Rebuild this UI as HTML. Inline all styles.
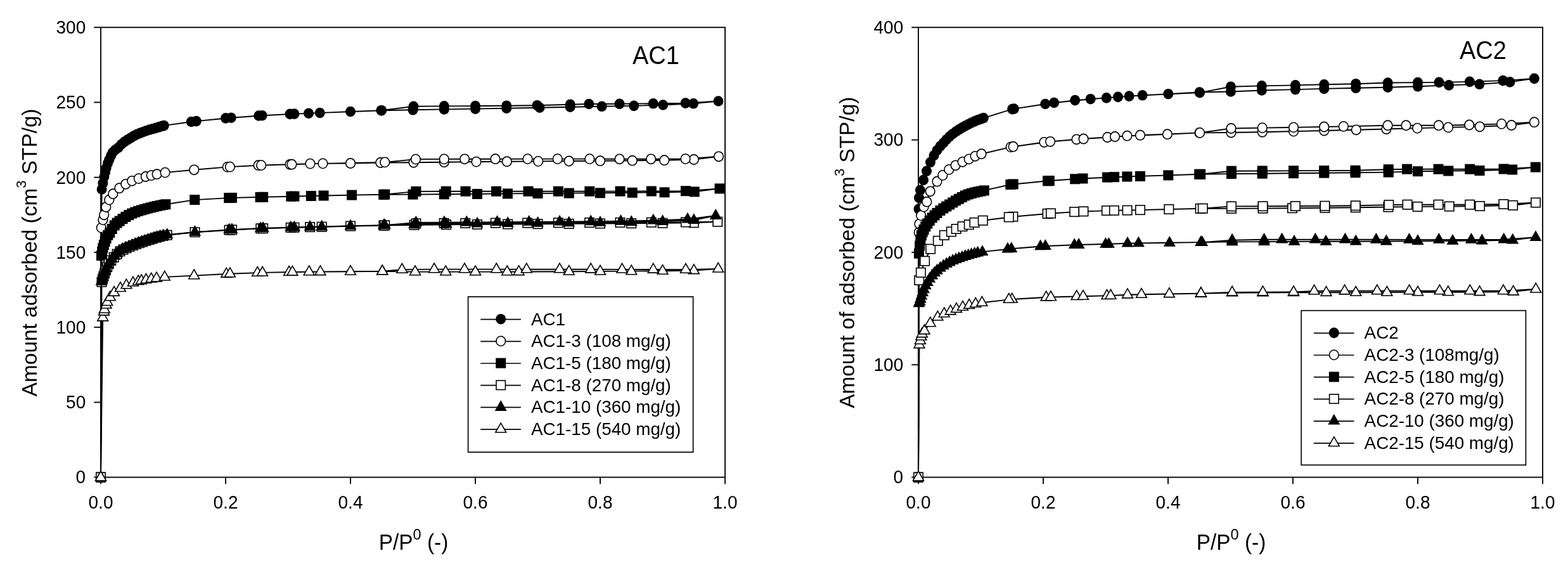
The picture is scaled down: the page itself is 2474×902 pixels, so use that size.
<!DOCTYPE html>
<html><head><meta charset="utf-8"><title>Adsorption isotherms</title>
<style>
html,body{margin:0;padding:0;background:#fff;}
body{width:2474px;height:902px;overflow:hidden;}
svg{display:block;}
text{font-family:"Liberation Sans", Arial, Helvetica, sans-serif;fill:#000;}
.tk{font-size:28px;}
.lg{font-size:27.8px;}
.ttl{font-size:38px;}
.at{font-size:33.4px;}
.sup{font-size:23.5px;}
.sup2{font-size:22px;}
</style></head>
<body>
<svg width="2474" height="902" viewBox="0 0 2474 902">
<rect width="2474" height="902" fill="#fff"/>
<rect x="159.0" y="43.2" width="985.0" height="709.4" fill="none" stroke="#111" stroke-width="2"/>
<line x1="148.3" y1="752.6" x2="159.0" y2="752.6" stroke="#111" stroke-width="2"/>
<text transform="translate(135.2 762.4) scale(1 1.04)" text-anchor="end" class="tk">0</text>
<line x1="148.3" y1="634.4" x2="159.0" y2="634.4" stroke="#111" stroke-width="2"/>
<text transform="translate(135.2 644.2) scale(1 1.04)" text-anchor="end" class="tk">50</text>
<line x1="148.3" y1="516.1" x2="159.0" y2="516.1" stroke="#111" stroke-width="2"/>
<text transform="translate(135.2 525.9) scale(1 1.04)" text-anchor="end" class="tk">100</text>
<line x1="148.3" y1="397.9" x2="159.0" y2="397.9" stroke="#111" stroke-width="2"/>
<text transform="translate(135.2 407.7) scale(1 1.04)" text-anchor="end" class="tk">150</text>
<line x1="148.3" y1="279.7" x2="159.0" y2="279.7" stroke="#111" stroke-width="2"/>
<text transform="translate(135.2 289.5) scale(1 1.04)" text-anchor="end" class="tk">200</text>
<line x1="148.3" y1="161.4" x2="159.0" y2="161.4" stroke="#111" stroke-width="2"/>
<text transform="translate(135.2 171.2) scale(1 1.04)" text-anchor="end" class="tk">250</text>
<line x1="148.3" y1="43.2" x2="159.0" y2="43.2" stroke="#111" stroke-width="2"/>
<text transform="translate(135.2 53.0) scale(1 1.04)" text-anchor="end" class="tk">300</text>
<line x1="159.0" y1="752.6" x2="159.0" y2="763.3" stroke="#111" stroke-width="2"/>
<text transform="translate(159.0 802.0) scale(1 1.04)" text-anchor="middle" class="tk">0.0</text>
<line x1="356.0" y1="752.6" x2="356.0" y2="763.3" stroke="#111" stroke-width="2"/>
<text transform="translate(356.0 802.0) scale(1 1.04)" text-anchor="middle" class="tk">0.2</text>
<line x1="553.0" y1="752.6" x2="553.0" y2="763.3" stroke="#111" stroke-width="2"/>
<text transform="translate(553.0 802.0) scale(1 1.04)" text-anchor="middle" class="tk">0.4</text>
<line x1="750.0" y1="752.6" x2="750.0" y2="763.3" stroke="#111" stroke-width="2"/>
<text transform="translate(750.0 802.0) scale(1 1.04)" text-anchor="middle" class="tk">0.6</text>
<line x1="947.0" y1="752.6" x2="947.0" y2="763.3" stroke="#111" stroke-width="2"/>
<text transform="translate(947.0 802.0) scale(1 1.04)" text-anchor="middle" class="tk">0.8</text>
<line x1="1144.0" y1="752.6" x2="1144.0" y2="763.3" stroke="#111" stroke-width="2"/>
<text transform="translate(1144.0 802.0) scale(1 1.04)" text-anchor="middle" class="tk">1.0</text>
<rect x="1449.0" y="43.2" width="985.0" height="709.4" fill="none" stroke="#111" stroke-width="2"/>
<line x1="1438.3" y1="752.6" x2="1449.0" y2="752.6" stroke="#111" stroke-width="2"/>
<text transform="translate(1425.2 762.4) scale(1 1.04)" text-anchor="end" class="tk">0</text>
<line x1="1438.3" y1="575.2" x2="1449.0" y2="575.2" stroke="#111" stroke-width="2"/>
<text transform="translate(1425.2 585.0) scale(1 1.04)" text-anchor="end" class="tk">100</text>
<line x1="1438.3" y1="397.9" x2="1449.0" y2="397.9" stroke="#111" stroke-width="2"/>
<text transform="translate(1425.2 407.7) scale(1 1.04)" text-anchor="end" class="tk">200</text>
<line x1="1438.3" y1="220.6" x2="1449.0" y2="220.6" stroke="#111" stroke-width="2"/>
<text transform="translate(1425.2 230.4) scale(1 1.04)" text-anchor="end" class="tk">300</text>
<line x1="1438.3" y1="43.2" x2="1449.0" y2="43.2" stroke="#111" stroke-width="2"/>
<text transform="translate(1425.2 53.0) scale(1 1.04)" text-anchor="end" class="tk">400</text>
<line x1="1449.0" y1="752.6" x2="1449.0" y2="763.3" stroke="#111" stroke-width="2"/>
<text transform="translate(1449.0 802.0) scale(1 1.04)" text-anchor="middle" class="tk">0.0</text>
<line x1="1646.0" y1="752.6" x2="1646.0" y2="763.3" stroke="#111" stroke-width="2"/>
<text transform="translate(1646.0 802.0) scale(1 1.04)" text-anchor="middle" class="tk">0.2</text>
<line x1="1843.0" y1="752.6" x2="1843.0" y2="763.3" stroke="#111" stroke-width="2"/>
<text transform="translate(1843.0 802.0) scale(1 1.04)" text-anchor="middle" class="tk">0.4</text>
<line x1="2040.0" y1="752.6" x2="2040.0" y2="763.3" stroke="#111" stroke-width="2"/>
<text transform="translate(2040.0 802.0) scale(1 1.04)" text-anchor="middle" class="tk">0.6</text>
<line x1="2237.0" y1="752.6" x2="2237.0" y2="763.3" stroke="#111" stroke-width="2"/>
<text transform="translate(2237.0 802.0) scale(1 1.04)" text-anchor="middle" class="tk">0.8</text>
<line x1="2434.0" y1="752.6" x2="2434.0" y2="763.3" stroke="#111" stroke-width="2"/>
<text transform="translate(2434.0 802.0) scale(1 1.04)" text-anchor="middle" class="tk">1.0</text>
<path d="M159.0 752.6 L160.6 298.5 L162.4 288.9 L164.4 278.6 L166.0 271.5 L167.6 265.2 L170.0 257.6 L172.3 251.8 L175.0 245.5 L177.6 240.6 L182.1 236.2 L186.7 232.8 L191.5 227.7 L196.4 223.6 L201.4 220.4 L206.3 217.4 L211.2 214.4 L216.1 211.9 L221.1 209.9 L226.0 208.0 L230.9 206.2 L235.8 204.6 L240.8 203.3 L245.7 201.9 L250.6 200.4 L255.5 198.9 L258.8 198.1 L301.8 192.0 L356.0 186.4 L408.2 182.5 L457.5 179.9 L487.0 178.7 L553.0 176.0 L602.2 174.2 L651.5 173.3 L700.8 172.4 L750.0 171.6 L799.2 170.7 L851.5 169.7 L899.7 168.7 L949.6 167.8 L1000.2 166.9 L1046.1 165.5 L1094.1 163.3 L1133.4 159.5 L1081.5 162.6 L1030.7 163.3 L977.5 163.8 L929.3 164.0 L899.7 164.7 L847.5 166.2 L799.2 166.7 L750.0 167.1 L700.8 167.4 L652.5 167.8 L601.3 174.2 L504.7 178.0 L464.4 179.6 L413.6 182.2 L364.7 185.7 L309.8 191.1" fill="none" stroke="#000" stroke-width="1.9" stroke-linejoin="round"/>
<ellipse cx="159.0" cy="752.6" rx="8.0" ry="8.3" fill="#000"/>
<ellipse cx="160.6" cy="298.5" rx="8.0" ry="8.3" fill="#000"/>
<ellipse cx="162.4" cy="288.9" rx="8.0" ry="8.3" fill="#000"/>
<ellipse cx="164.4" cy="278.6" rx="8.0" ry="8.3" fill="#000"/>
<ellipse cx="166.0" cy="271.5" rx="8.0" ry="8.3" fill="#000"/>
<ellipse cx="167.6" cy="265.2" rx="8.0" ry="8.3" fill="#000"/>
<ellipse cx="170.0" cy="257.6" rx="8.0" ry="8.3" fill="#000"/>
<ellipse cx="172.3" cy="251.8" rx="8.0" ry="8.3" fill="#000"/>
<ellipse cx="175.0" cy="245.5" rx="8.0" ry="8.3" fill="#000"/>
<ellipse cx="177.6" cy="240.6" rx="8.0" ry="8.3" fill="#000"/>
<ellipse cx="182.1" cy="236.2" rx="8.0" ry="8.3" fill="#000"/>
<ellipse cx="186.7" cy="232.8" rx="8.0" ry="8.3" fill="#000"/>
<ellipse cx="191.5" cy="227.7" rx="8.0" ry="8.3" fill="#000"/>
<ellipse cx="196.4" cy="223.6" rx="8.0" ry="8.3" fill="#000"/>
<ellipse cx="201.4" cy="220.4" rx="8.0" ry="8.3" fill="#000"/>
<ellipse cx="206.3" cy="217.4" rx="8.0" ry="8.3" fill="#000"/>
<ellipse cx="211.2" cy="214.4" rx="8.0" ry="8.3" fill="#000"/>
<ellipse cx="216.1" cy="211.9" rx="8.0" ry="8.3" fill="#000"/>
<ellipse cx="221.1" cy="209.9" rx="8.0" ry="8.3" fill="#000"/>
<ellipse cx="226.0" cy="208.0" rx="8.0" ry="8.3" fill="#000"/>
<ellipse cx="230.9" cy="206.2" rx="8.0" ry="8.3" fill="#000"/>
<ellipse cx="235.8" cy="204.6" rx="8.0" ry="8.3" fill="#000"/>
<ellipse cx="240.8" cy="203.3" rx="8.0" ry="8.3" fill="#000"/>
<ellipse cx="245.7" cy="201.9" rx="8.0" ry="8.3" fill="#000"/>
<ellipse cx="250.6" cy="200.4" rx="8.0" ry="8.3" fill="#000"/>
<ellipse cx="255.5" cy="198.9" rx="8.0" ry="8.3" fill="#000"/>
<ellipse cx="258.8" cy="198.1" rx="8.0" ry="8.3" fill="#000"/>
<ellipse cx="301.8" cy="192.0" rx="8.0" ry="8.3" fill="#000"/>
<ellipse cx="356.0" cy="186.4" rx="8.0" ry="8.3" fill="#000"/>
<ellipse cx="408.2" cy="182.5" rx="8.0" ry="8.3" fill="#000"/>
<ellipse cx="457.5" cy="179.9" rx="8.0" ry="8.3" fill="#000"/>
<ellipse cx="487.0" cy="178.7" rx="8.0" ry="8.3" fill="#000"/>
<ellipse cx="553.0" cy="176.0" rx="8.0" ry="8.3" fill="#000"/>
<ellipse cx="602.2" cy="174.2" rx="8.0" ry="8.3" fill="#000"/>
<ellipse cx="651.5" cy="173.3" rx="8.0" ry="8.3" fill="#000"/>
<ellipse cx="700.8" cy="172.4" rx="8.0" ry="8.3" fill="#000"/>
<ellipse cx="750.0" cy="171.6" rx="8.0" ry="8.3" fill="#000"/>
<ellipse cx="799.2" cy="170.7" rx="8.0" ry="8.3" fill="#000"/>
<ellipse cx="851.5" cy="169.7" rx="8.0" ry="8.3" fill="#000"/>
<ellipse cx="899.7" cy="168.7" rx="8.0" ry="8.3" fill="#000"/>
<ellipse cx="949.6" cy="167.8" rx="8.0" ry="8.3" fill="#000"/>
<ellipse cx="1000.2" cy="166.9" rx="8.0" ry="8.3" fill="#000"/>
<ellipse cx="1046.1" cy="165.5" rx="8.0" ry="8.3" fill="#000"/>
<ellipse cx="1094.1" cy="163.3" rx="8.0" ry="8.3" fill="#000"/>
<ellipse cx="1133.4" cy="159.5" rx="8.0" ry="8.3" fill="#000"/>
<ellipse cx="1081.5" cy="162.6" rx="8.0" ry="8.3" fill="#000"/>
<ellipse cx="1030.7" cy="163.3" rx="8.0" ry="8.3" fill="#000"/>
<ellipse cx="977.5" cy="163.8" rx="8.0" ry="8.3" fill="#000"/>
<ellipse cx="929.3" cy="164.0" rx="8.0" ry="8.3" fill="#000"/>
<ellipse cx="899.7" cy="164.7" rx="8.0" ry="8.3" fill="#000"/>
<ellipse cx="847.5" cy="166.2" rx="8.0" ry="8.3" fill="#000"/>
<ellipse cx="799.2" cy="166.7" rx="8.0" ry="8.3" fill="#000"/>
<ellipse cx="750.0" cy="167.1" rx="8.0" ry="8.3" fill="#000"/>
<ellipse cx="700.8" cy="167.4" rx="8.0" ry="8.3" fill="#000"/>
<ellipse cx="652.5" cy="167.8" rx="8.0" ry="8.3" fill="#000"/>
<ellipse cx="601.3" cy="174.2" rx="8.0" ry="8.3" fill="#000"/>
<ellipse cx="504.7" cy="178.0" rx="8.0" ry="8.3" fill="#000"/>
<ellipse cx="464.4" cy="179.6" rx="8.0" ry="8.3" fill="#000"/>
<ellipse cx="413.6" cy="182.2" rx="8.0" ry="8.3" fill="#000"/>
<ellipse cx="364.7" cy="185.7" rx="8.0" ry="8.3" fill="#000"/>
<ellipse cx="309.8" cy="191.1" rx="8.0" ry="8.3" fill="#000"/>
<path d="M159.0 752.6 L159.8 359.1 L162.4 346.6 L164.2 338.8 L167.3 326.5 L172.3 315.1 L178.3 305.7 L188.3 296.7 L198.3 290.3 L208.2 285.3 L218.8 281.6 L229.9 278.5 L238.7 276.6 L247.6 274.7 L260.5 272.1 L306.3 267.8 L358.8 263.4 L407.6 260.7 L457.5 259.3 L489.4 258.1 L553.0 257.5 L600.3 256.5 L652.6 256.3 L700.8 255.7 L751.5 255.1 L799.8 254.7 L849.2 254.4 L897.7 254.0 L947.0 253.7 L997.7 253.2 L1048.2 252.7 L1094.8 251.5 L1134.0 246.8 L1081.5 250.6 L1027.1 250.8 L977.5 250.8 L930.3 250.6 L879.7 250.6 L832.5 250.6 L781.5 250.7 L733.1 250.8 L700.8 250.9 L655.9 251.1 L607.2 255.9 L509.4 257.9 L460.4 259.2 L412.1 260.6 L362.9 263.1" fill="none" stroke="#000" stroke-width="1.9" stroke-linejoin="round"/>
<ellipse cx="159.0" cy="752.6" rx="7.3" ry="7.6" fill="#fff" stroke="#000" stroke-width="1.6"/>
<ellipse cx="159.8" cy="359.1" rx="7.3" ry="7.6" fill="#fff" stroke="#000" stroke-width="1.6"/>
<ellipse cx="162.4" cy="346.6" rx="7.3" ry="7.6" fill="#fff" stroke="#000" stroke-width="1.6"/>
<ellipse cx="164.2" cy="338.8" rx="7.3" ry="7.6" fill="#fff" stroke="#000" stroke-width="1.6"/>
<ellipse cx="167.3" cy="326.5" rx="7.3" ry="7.6" fill="#fff" stroke="#000" stroke-width="1.6"/>
<ellipse cx="172.3" cy="315.1" rx="7.3" ry="7.6" fill="#fff" stroke="#000" stroke-width="1.6"/>
<ellipse cx="178.3" cy="305.7" rx="7.3" ry="7.6" fill="#fff" stroke="#000" stroke-width="1.6"/>
<ellipse cx="188.3" cy="296.7" rx="7.3" ry="7.6" fill="#fff" stroke="#000" stroke-width="1.6"/>
<ellipse cx="198.3" cy="290.3" rx="7.3" ry="7.6" fill="#fff" stroke="#000" stroke-width="1.6"/>
<ellipse cx="208.2" cy="285.3" rx="7.3" ry="7.6" fill="#fff" stroke="#000" stroke-width="1.6"/>
<ellipse cx="218.8" cy="281.6" rx="7.3" ry="7.6" fill="#fff" stroke="#000" stroke-width="1.6"/>
<ellipse cx="229.9" cy="278.5" rx="7.3" ry="7.6" fill="#fff" stroke="#000" stroke-width="1.6"/>
<ellipse cx="238.7" cy="276.6" rx="7.3" ry="7.6" fill="#fff" stroke="#000" stroke-width="1.6"/>
<ellipse cx="247.6" cy="274.7" rx="7.3" ry="7.6" fill="#fff" stroke="#000" stroke-width="1.6"/>
<ellipse cx="260.5" cy="272.1" rx="7.3" ry="7.6" fill="#fff" stroke="#000" stroke-width="1.6"/>
<ellipse cx="306.3" cy="267.8" rx="7.3" ry="7.6" fill="#fff" stroke="#000" stroke-width="1.6"/>
<ellipse cx="358.8" cy="263.4" rx="7.3" ry="7.6" fill="#fff" stroke="#000" stroke-width="1.6"/>
<ellipse cx="407.6" cy="260.7" rx="7.3" ry="7.6" fill="#fff" stroke="#000" stroke-width="1.6"/>
<ellipse cx="457.5" cy="259.3" rx="7.3" ry="7.6" fill="#fff" stroke="#000" stroke-width="1.6"/>
<ellipse cx="489.4" cy="258.1" rx="7.3" ry="7.6" fill="#fff" stroke="#000" stroke-width="1.6"/>
<ellipse cx="553.0" cy="257.5" rx="7.3" ry="7.6" fill="#fff" stroke="#000" stroke-width="1.6"/>
<ellipse cx="600.3" cy="256.5" rx="7.3" ry="7.6" fill="#fff" stroke="#000" stroke-width="1.6"/>
<ellipse cx="652.6" cy="256.3" rx="7.3" ry="7.6" fill="#fff" stroke="#000" stroke-width="1.6"/>
<ellipse cx="700.8" cy="255.7" rx="7.3" ry="7.6" fill="#fff" stroke="#000" stroke-width="1.6"/>
<ellipse cx="751.5" cy="255.1" rx="7.3" ry="7.6" fill="#fff" stroke="#000" stroke-width="1.6"/>
<ellipse cx="799.8" cy="254.7" rx="7.3" ry="7.6" fill="#fff" stroke="#000" stroke-width="1.6"/>
<ellipse cx="849.2" cy="254.4" rx="7.3" ry="7.6" fill="#fff" stroke="#000" stroke-width="1.6"/>
<ellipse cx="897.7" cy="254.0" rx="7.3" ry="7.6" fill="#fff" stroke="#000" stroke-width="1.6"/>
<ellipse cx="947.0" cy="253.7" rx="7.3" ry="7.6" fill="#fff" stroke="#000" stroke-width="1.6"/>
<ellipse cx="997.7" cy="253.2" rx="7.3" ry="7.6" fill="#fff" stroke="#000" stroke-width="1.6"/>
<ellipse cx="1048.2" cy="252.7" rx="7.3" ry="7.6" fill="#fff" stroke="#000" stroke-width="1.6"/>
<ellipse cx="1094.8" cy="251.5" rx="7.3" ry="7.6" fill="#fff" stroke="#000" stroke-width="1.6"/>
<ellipse cx="1134.0" cy="246.8" rx="7.3" ry="7.6" fill="#fff" stroke="#000" stroke-width="1.6"/>
<ellipse cx="1081.5" cy="250.6" rx="7.3" ry="7.6" fill="#fff" stroke="#000" stroke-width="1.6"/>
<ellipse cx="1027.1" cy="250.8" rx="7.3" ry="7.6" fill="#fff" stroke="#000" stroke-width="1.6"/>
<ellipse cx="977.5" cy="250.8" rx="7.3" ry="7.6" fill="#fff" stroke="#000" stroke-width="1.6"/>
<ellipse cx="930.3" cy="250.6" rx="7.3" ry="7.6" fill="#fff" stroke="#000" stroke-width="1.6"/>
<ellipse cx="879.7" cy="250.6" rx="7.3" ry="7.6" fill="#fff" stroke="#000" stroke-width="1.6"/>
<ellipse cx="832.5" cy="250.6" rx="7.3" ry="7.6" fill="#fff" stroke="#000" stroke-width="1.6"/>
<ellipse cx="781.5" cy="250.7" rx="7.3" ry="7.6" fill="#fff" stroke="#000" stroke-width="1.6"/>
<ellipse cx="733.1" cy="250.8" rx="7.3" ry="7.6" fill="#fff" stroke="#000" stroke-width="1.6"/>
<ellipse cx="700.8" cy="250.9" rx="7.3" ry="7.6" fill="#fff" stroke="#000" stroke-width="1.6"/>
<ellipse cx="655.9" cy="251.1" rx="7.3" ry="7.6" fill="#fff" stroke="#000" stroke-width="1.6"/>
<ellipse cx="607.2" cy="255.9" rx="7.3" ry="7.6" fill="#fff" stroke="#000" stroke-width="1.6"/>
<ellipse cx="509.4" cy="257.9" rx="7.3" ry="7.6" fill="#fff" stroke="#000" stroke-width="1.6"/>
<ellipse cx="460.4" cy="259.2" rx="7.3" ry="7.6" fill="#fff" stroke="#000" stroke-width="1.6"/>
<ellipse cx="412.1" cy="260.6" rx="7.3" ry="7.6" fill="#fff" stroke="#000" stroke-width="1.6"/>
<ellipse cx="362.9" cy="263.1" rx="7.3" ry="7.6" fill="#fff" stroke="#000" stroke-width="1.6"/>
<path d="M159.0 752.6 L160.0 403.1 L161.2 396.7 L162.4 391.2 L163.9 386.2 L165.7 380.9 L167.6 375.8 L170.3 370.7 L173.3 366.9 L176.7 361.0 L180.7 355.4 L184.6 351.6 L188.6 348.6 L193.5 345.2 L198.4 342.0 L203.3 339.1 L208.2 336.6 L213.2 334.6 L218.1 332.9 L223.0 331.4 L227.9 330.0 L232.9 328.6 L237.8 327.4 L242.7 326.2 L247.6 325.0 L252.6 324.0 L257.5 323.0 L261.4 322.2 L307.2 315.1 L361.2 312.1 L410.6 310.9 L459.3 309.7 L490.9 309.0 L555.0 307.6 L605.2 306.9 L651.5 306.6 L700.8 306.3 L753.0 305.9 L800.9 305.4 L848.5 305.0 L897.8 304.6 L947.0 304.3 L997.7 303.8 L1048.5 303.3 L1095.7 302.4 L1135.5 297.4 L1081.9 301.2 L1027.8 301.5 L978.5 301.6 L930.3 301.7 L880.8 301.7 L833.5 301.7 L783.0 301.7 L734.5 301.7 L703.7 301.7 L656.4 301.9 L607.2 306.6 L510.6 308.5 L464.4 309.6 L415.1 310.8 L365.9 311.9" fill="none" stroke="#000" stroke-width="1.9" stroke-linejoin="round"/>
<rect x="151.0" y="744.6" width="16.0" height="16.0" fill="#000"/>
<rect x="152.0" y="395.1" width="16.0" height="16.0" fill="#000"/>
<rect x="153.2" y="388.7" width="16.0" height="16.0" fill="#000"/>
<rect x="154.4" y="383.2" width="16.0" height="16.0" fill="#000"/>
<rect x="155.9" y="378.2" width="16.0" height="16.0" fill="#000"/>
<rect x="157.7" y="372.9" width="16.0" height="16.0" fill="#000"/>
<rect x="159.6" y="367.8" width="16.0" height="16.0" fill="#000"/>
<rect x="162.3" y="362.7" width="16.0" height="16.0" fill="#000"/>
<rect x="165.3" y="358.9" width="16.0" height="16.0" fill="#000"/>
<rect x="168.7" y="353.0" width="16.0" height="16.0" fill="#000"/>
<rect x="172.7" y="347.4" width="16.0" height="16.0" fill="#000"/>
<rect x="176.6" y="343.6" width="16.0" height="16.0" fill="#000"/>
<rect x="180.6" y="340.6" width="16.0" height="16.0" fill="#000"/>
<rect x="185.5" y="337.2" width="16.0" height="16.0" fill="#000"/>
<rect x="190.4" y="334.0" width="16.0" height="16.0" fill="#000"/>
<rect x="195.3" y="331.1" width="16.0" height="16.0" fill="#000"/>
<rect x="200.2" y="328.6" width="16.0" height="16.0" fill="#000"/>
<rect x="205.2" y="326.6" width="16.0" height="16.0" fill="#000"/>
<rect x="210.1" y="324.9" width="16.0" height="16.0" fill="#000"/>
<rect x="215.0" y="323.4" width="16.0" height="16.0" fill="#000"/>
<rect x="219.9" y="322.0" width="16.0" height="16.0" fill="#000"/>
<rect x="224.9" y="320.6" width="16.0" height="16.0" fill="#000"/>
<rect x="229.8" y="319.4" width="16.0" height="16.0" fill="#000"/>
<rect x="234.7" y="318.2" width="16.0" height="16.0" fill="#000"/>
<rect x="239.6" y="317.0" width="16.0" height="16.0" fill="#000"/>
<rect x="244.6" y="316.0" width="16.0" height="16.0" fill="#000"/>
<rect x="249.5" y="315.0" width="16.0" height="16.0" fill="#000"/>
<rect x="253.4" y="314.2" width="16.0" height="16.0" fill="#000"/>
<rect x="299.2" y="307.1" width="16.0" height="16.0" fill="#000"/>
<rect x="353.2" y="304.1" width="16.0" height="16.0" fill="#000"/>
<rect x="402.6" y="302.9" width="16.0" height="16.0" fill="#000"/>
<rect x="451.3" y="301.7" width="16.0" height="16.0" fill="#000"/>
<rect x="482.9" y="301.0" width="16.0" height="16.0" fill="#000"/>
<rect x="547.0" y="299.6" width="16.0" height="16.0" fill="#000"/>
<rect x="597.2" y="298.9" width="16.0" height="16.0" fill="#000"/>
<rect x="643.5" y="298.6" width="16.0" height="16.0" fill="#000"/>
<rect x="692.8" y="298.3" width="16.0" height="16.0" fill="#000"/>
<rect x="745.0" y="297.9" width="16.0" height="16.0" fill="#000"/>
<rect x="792.9" y="297.4" width="16.0" height="16.0" fill="#000"/>
<rect x="840.5" y="297.0" width="16.0" height="16.0" fill="#000"/>
<rect x="889.8" y="296.6" width="16.0" height="16.0" fill="#000"/>
<rect x="939.0" y="296.3" width="16.0" height="16.0" fill="#000"/>
<rect x="989.7" y="295.8" width="16.0" height="16.0" fill="#000"/>
<rect x="1040.5" y="295.3" width="16.0" height="16.0" fill="#000"/>
<rect x="1087.7" y="294.4" width="16.0" height="16.0" fill="#000"/>
<rect x="1127.5" y="289.4" width="16.0" height="16.0" fill="#000"/>
<rect x="1073.9" y="293.2" width="16.0" height="16.0" fill="#000"/>
<rect x="1019.8" y="293.5" width="16.0" height="16.0" fill="#000"/>
<rect x="970.5" y="293.6" width="16.0" height="16.0" fill="#000"/>
<rect x="922.3" y="293.7" width="16.0" height="16.0" fill="#000"/>
<rect x="872.8" y="293.7" width="16.0" height="16.0" fill="#000"/>
<rect x="825.5" y="293.7" width="16.0" height="16.0" fill="#000"/>
<rect x="775.0" y="293.7" width="16.0" height="16.0" fill="#000"/>
<rect x="726.5" y="293.7" width="16.0" height="16.0" fill="#000"/>
<rect x="695.7" y="293.7" width="16.0" height="16.0" fill="#000"/>
<rect x="648.4" y="293.9" width="16.0" height="16.0" fill="#000"/>
<rect x="599.2" y="298.6" width="16.0" height="16.0" fill="#000"/>
<rect x="502.6" y="300.5" width="16.0" height="16.0" fill="#000"/>
<rect x="456.4" y="301.6" width="16.0" height="16.0" fill="#000"/>
<rect x="407.1" y="302.8" width="16.0" height="16.0" fill="#000"/>
<rect x="357.9" y="303.9" width="16.0" height="16.0" fill="#000"/>
<path d="M159.0 752.6 L160.5 444.7 L162.0 439.9 L163.4 435.5 L165.1 430.7 L166.9 426.2 L169.3 420.4 L171.8 415.8 L175.3 410.7 L179.7 405.7 L184.6 400.6 L189.5 396.3 L194.5 393.5 L199.4 391.2 L204.3 389.2 L209.8 387.0 L215.1 385.0 L220.1 383.2 L225.0 381.5 L230.4 379.7 L235.8 378.1 L240.8 376.5 L246.7 374.7 L251.6 373.3 L257.5 371.9 L263.7 370.7 L307.5 366.2 L361.6 362.7 L411.3 360.3 L458.7 358.9 L489.1 358.1 L553.0 356.5 L605.4 355.6 L653.6 354.8 L704.1 354.3 L753.0 353.9 L801.2 353.5 L848.5 353.2 L897.8 352.9 L947.0 352.5 L996.2 352.2 L1045.5 351.8 L1094.8 351.3 L1132.2 349.7 L1081.9 350.4 L1027.8 350.7 L978.5 350.9 L930.1 351.1 L880.8 351.3 L832.2 351.5 L781.8 351.6 L734.2 351.9 L700.8 352.0 L656.4 352.4 L607.2 355.4 L507.7 357.7 L464.4 358.7 L415.1 360.2 L365.9 362.4" fill="none" stroke="#000" stroke-width="1.9" stroke-linejoin="round"/>
<rect x="151.8" y="745.4" width="14.4" height="14.4" fill="#fff" stroke="#000" stroke-width="1.6"/>
<rect x="153.3" y="437.5" width="14.4" height="14.4" fill="#fff" stroke="#000" stroke-width="1.6"/>
<rect x="154.8" y="432.7" width="14.4" height="14.4" fill="#fff" stroke="#000" stroke-width="1.6"/>
<rect x="156.2" y="428.3" width="14.4" height="14.4" fill="#fff" stroke="#000" stroke-width="1.6"/>
<rect x="157.9" y="423.5" width="14.4" height="14.4" fill="#fff" stroke="#000" stroke-width="1.6"/>
<rect x="159.7" y="419.0" width="14.4" height="14.4" fill="#fff" stroke="#000" stroke-width="1.6"/>
<rect x="162.1" y="413.2" width="14.4" height="14.4" fill="#fff" stroke="#000" stroke-width="1.6"/>
<rect x="164.6" y="408.6" width="14.4" height="14.4" fill="#fff" stroke="#000" stroke-width="1.6"/>
<rect x="168.1" y="403.5" width="14.4" height="14.4" fill="#fff" stroke="#000" stroke-width="1.6"/>
<rect x="172.5" y="398.5" width="14.4" height="14.4" fill="#fff" stroke="#000" stroke-width="1.6"/>
<rect x="177.4" y="393.4" width="14.4" height="14.4" fill="#fff" stroke="#000" stroke-width="1.6"/>
<rect x="182.3" y="389.1" width="14.4" height="14.4" fill="#fff" stroke="#000" stroke-width="1.6"/>
<rect x="187.3" y="386.3" width="14.4" height="14.4" fill="#fff" stroke="#000" stroke-width="1.6"/>
<rect x="192.2" y="384.0" width="14.4" height="14.4" fill="#fff" stroke="#000" stroke-width="1.6"/>
<rect x="197.1" y="382.0" width="14.4" height="14.4" fill="#fff" stroke="#000" stroke-width="1.6"/>
<rect x="202.6" y="379.8" width="14.4" height="14.4" fill="#fff" stroke="#000" stroke-width="1.6"/>
<rect x="207.9" y="377.8" width="14.4" height="14.4" fill="#fff" stroke="#000" stroke-width="1.6"/>
<rect x="212.9" y="376.0" width="14.4" height="14.4" fill="#fff" stroke="#000" stroke-width="1.6"/>
<rect x="217.8" y="374.3" width="14.4" height="14.4" fill="#fff" stroke="#000" stroke-width="1.6"/>
<rect x="223.2" y="372.5" width="14.4" height="14.4" fill="#fff" stroke="#000" stroke-width="1.6"/>
<rect x="228.6" y="370.9" width="14.4" height="14.4" fill="#fff" stroke="#000" stroke-width="1.6"/>
<rect x="233.6" y="369.3" width="14.4" height="14.4" fill="#fff" stroke="#000" stroke-width="1.6"/>
<rect x="239.5" y="367.5" width="14.4" height="14.4" fill="#fff" stroke="#000" stroke-width="1.6"/>
<rect x="244.4" y="366.1" width="14.4" height="14.4" fill="#fff" stroke="#000" stroke-width="1.6"/>
<rect x="250.3" y="364.7" width="14.4" height="14.4" fill="#fff" stroke="#000" stroke-width="1.6"/>
<rect x="256.5" y="363.5" width="14.4" height="14.4" fill="#fff" stroke="#000" stroke-width="1.6"/>
<rect x="300.3" y="359.0" width="14.4" height="14.4" fill="#fff" stroke="#000" stroke-width="1.6"/>
<rect x="354.4" y="355.5" width="14.4" height="14.4" fill="#fff" stroke="#000" stroke-width="1.6"/>
<rect x="404.1" y="353.1" width="14.4" height="14.4" fill="#fff" stroke="#000" stroke-width="1.6"/>
<rect x="451.5" y="351.7" width="14.4" height="14.4" fill="#fff" stroke="#000" stroke-width="1.6"/>
<rect x="481.9" y="350.9" width="14.4" height="14.4" fill="#fff" stroke="#000" stroke-width="1.6"/>
<rect x="545.8" y="349.3" width="14.4" height="14.4" fill="#fff" stroke="#000" stroke-width="1.6"/>
<rect x="598.2" y="348.4" width="14.4" height="14.4" fill="#fff" stroke="#000" stroke-width="1.6"/>
<rect x="646.4" y="347.6" width="14.4" height="14.4" fill="#fff" stroke="#000" stroke-width="1.6"/>
<rect x="696.9" y="347.1" width="14.4" height="14.4" fill="#fff" stroke="#000" stroke-width="1.6"/>
<rect x="745.8" y="346.7" width="14.4" height="14.4" fill="#fff" stroke="#000" stroke-width="1.6"/>
<rect x="794.0" y="346.3" width="14.4" height="14.4" fill="#fff" stroke="#000" stroke-width="1.6"/>
<rect x="841.3" y="346.0" width="14.4" height="14.4" fill="#fff" stroke="#000" stroke-width="1.6"/>
<rect x="890.5" y="345.7" width="14.4" height="14.4" fill="#fff" stroke="#000" stroke-width="1.6"/>
<rect x="939.8" y="345.3" width="14.4" height="14.4" fill="#fff" stroke="#000" stroke-width="1.6"/>
<rect x="989.0" y="345.0" width="14.4" height="14.4" fill="#fff" stroke="#000" stroke-width="1.6"/>
<rect x="1038.3" y="344.6" width="14.4" height="14.4" fill="#fff" stroke="#000" stroke-width="1.6"/>
<rect x="1087.5" y="344.1" width="14.4" height="14.4" fill="#fff" stroke="#000" stroke-width="1.6"/>
<rect x="1125.0" y="342.5" width="14.4" height="14.4" fill="#fff" stroke="#000" stroke-width="1.6"/>
<rect x="1074.7" y="343.2" width="14.4" height="14.4" fill="#fff" stroke="#000" stroke-width="1.6"/>
<rect x="1020.6" y="343.5" width="14.4" height="14.4" fill="#fff" stroke="#000" stroke-width="1.6"/>
<rect x="971.3" y="343.7" width="14.4" height="14.4" fill="#fff" stroke="#000" stroke-width="1.6"/>
<rect x="922.9" y="343.9" width="14.4" height="14.4" fill="#fff" stroke="#000" stroke-width="1.6"/>
<rect x="873.6" y="344.1" width="14.4" height="14.4" fill="#fff" stroke="#000" stroke-width="1.6"/>
<rect x="825.0" y="344.3" width="14.4" height="14.4" fill="#fff" stroke="#000" stroke-width="1.6"/>
<rect x="774.6" y="344.4" width="14.4" height="14.4" fill="#fff" stroke="#000" stroke-width="1.6"/>
<rect x="727.0" y="344.7" width="14.4" height="14.4" fill="#fff" stroke="#000" stroke-width="1.6"/>
<rect x="693.5" y="344.8" width="14.4" height="14.4" fill="#fff" stroke="#000" stroke-width="1.6"/>
<rect x="649.2" y="345.2" width="14.4" height="14.4" fill="#fff" stroke="#000" stroke-width="1.6"/>
<rect x="600.0" y="348.2" width="14.4" height="14.4" fill="#fff" stroke="#000" stroke-width="1.6"/>
<rect x="500.5" y="350.5" width="14.4" height="14.4" fill="#fff" stroke="#000" stroke-width="1.6"/>
<rect x="457.2" y="351.5" width="14.4" height="14.4" fill="#fff" stroke="#000" stroke-width="1.6"/>
<rect x="407.9" y="353.0" width="14.4" height="14.4" fill="#fff" stroke="#000" stroke-width="1.6"/>
<rect x="358.7" y="355.2" width="14.4" height="14.4" fill="#fff" stroke="#000" stroke-width="1.6"/>
<path d="M159.0 752.6 L160.0 444.0 L161.2 440.7 L162.4 437.1 L163.9 432.9 L165.7 428.0 L167.6 423.4 L170.3 417.5 L173.3 412.5 L176.7 408.0 L180.7 403.7 L184.6 399.6 L188.6 396.1 L193.5 393.0 L198.4 390.6 L203.3 388.6 L208.2 386.7 L213.2 384.8 L218.1 383.0 L223.0 381.3 L227.9 379.8 L232.9 378.3 L237.8 376.8 L242.7 375.3 L247.6 373.9 L252.6 372.5 L257.5 371.4 L263.7 370.2 L307.5 366.0 L361.6 362.4 L411.3 360.1 L458.7 358.6 L489.1 357.9 L553.0 356.3 L605.4 355.3 L653.6 353.9 L704.1 353.2 L753.0 352.7 L801.2 352.2 L848.5 351.8 L897.8 351.3 L947.0 350.8 L996.2 350.2 L1045.5 349.2 L1094.8 347.1 L1129.2 340.0 L1084.9 345.7 L1030.7 347.7 L979.5 348.8 L932.2 349.3 L883.0 349.7 L834.7 349.9 L784.5 350.2 L736.2 350.5 L700.8 350.6 L656.4 351.0 L607.2 355.1 L507.7 357.5 L464.4 358.5 L415.1 359.9 L365.9 362.2" fill="none" stroke="#000" stroke-width="1.9" stroke-linejoin="round"/>
<path d="M159.0 741.7L168.5 758.5L149.5 758.5Z" fill="#000"/>
<path d="M160.0 433.1L169.5 449.9L150.5 449.9Z" fill="#000"/>
<path d="M161.2 429.8L170.7 446.6L151.7 446.6Z" fill="#000"/>
<path d="M162.4 426.2L171.9 443.0L152.9 443.0Z" fill="#000"/>
<path d="M163.9 422.0L173.4 438.8L154.4 438.8Z" fill="#000"/>
<path d="M165.7 417.1L175.2 433.9L156.2 433.9Z" fill="#000"/>
<path d="M167.6 412.5L177.1 429.3L158.1 429.3Z" fill="#000"/>
<path d="M170.3 406.6L179.8 423.4L160.8 423.4Z" fill="#000"/>
<path d="M173.3 401.6L182.8 418.4L163.8 418.4Z" fill="#000"/>
<path d="M176.7 397.1L186.2 413.9L167.2 413.9Z" fill="#000"/>
<path d="M180.7 392.8L190.2 409.6L171.2 409.6Z" fill="#000"/>
<path d="M184.6 388.7L194.1 405.5L175.1 405.5Z" fill="#000"/>
<path d="M188.6 385.2L198.1 402.0L179.1 402.0Z" fill="#000"/>
<path d="M193.5 382.1L203.0 398.9L184.0 398.9Z" fill="#000"/>
<path d="M198.4 379.7L207.9 396.5L188.9 396.5Z" fill="#000"/>
<path d="M203.3 377.7L212.8 394.5L193.8 394.5Z" fill="#000"/>
<path d="M208.2 375.8L217.8 392.6L198.8 392.6Z" fill="#000"/>
<path d="M213.2 373.9L222.7 390.7L203.7 390.7Z" fill="#000"/>
<path d="M218.1 372.1L227.6 388.9L208.6 388.9Z" fill="#000"/>
<path d="M223.0 370.4L232.5 387.2L213.5 387.2Z" fill="#000"/>
<path d="M227.9 368.9L237.4 385.7L218.4 385.7Z" fill="#000"/>
<path d="M232.9 367.4L242.4 384.2L223.4 384.2Z" fill="#000"/>
<path d="M237.8 365.9L247.3 382.7L228.3 382.7Z" fill="#000"/>
<path d="M242.7 364.4L252.2 381.2L233.2 381.2Z" fill="#000"/>
<path d="M247.6 363.0L257.1 379.8L238.1 379.8Z" fill="#000"/>
<path d="M252.6 361.6L262.1 378.4L243.1 378.4Z" fill="#000"/>
<path d="M257.5 360.5L267.0 377.3L248.0 377.3Z" fill="#000"/>
<path d="M263.7 359.3L273.2 376.1L254.2 376.1Z" fill="#000"/>
<path d="M307.5 355.1L317.0 371.9L298.0 371.9Z" fill="#000"/>
<path d="M361.6 351.5L371.1 368.3L352.1 368.3Z" fill="#000"/>
<path d="M411.3 349.2L420.8 366.0L401.8 366.0Z" fill="#000"/>
<path d="M458.7 347.7L468.2 364.5L449.2 364.5Z" fill="#000"/>
<path d="M489.1 347.0L498.6 363.8L479.6 363.8Z" fill="#000"/>
<path d="M553.0 345.4L562.5 362.2L543.5 362.2Z" fill="#000"/>
<path d="M605.4 344.4L614.9 361.2L595.9 361.2Z" fill="#000"/>
<path d="M653.6 343.0L663.1 359.8L644.1 359.8Z" fill="#000"/>
<path d="M704.1 342.3L713.6 359.1L694.6 359.1Z" fill="#000"/>
<path d="M753.0 341.8L762.5 358.6L743.5 358.6Z" fill="#000"/>
<path d="M801.2 341.3L810.7 358.1L791.7 358.1Z" fill="#000"/>
<path d="M848.5 340.9L858.0 357.7L839.0 357.7Z" fill="#000"/>
<path d="M897.8 340.4L907.2 357.2L888.2 357.2Z" fill="#000"/>
<path d="M947.0 339.9L956.5 356.7L937.5 356.7Z" fill="#000"/>
<path d="M996.2 339.3L1005.8 356.1L986.8 356.1Z" fill="#000"/>
<path d="M1045.5 338.3L1055.0 355.1L1036.0 355.1Z" fill="#000"/>
<path d="M1094.8 336.2L1104.2 353.0L1085.2 353.0Z" fill="#000"/>
<path d="M1129.2 329.1L1138.7 345.9L1119.7 345.9Z" fill="#000"/>
<path d="M1084.9 334.8L1094.4 351.6L1075.4 351.6Z" fill="#000"/>
<path d="M1030.7 336.8L1040.2 353.6L1021.2 353.6Z" fill="#000"/>
<path d="M979.5 337.9L989.0 354.7L970.0 354.7Z" fill="#000"/>
<path d="M932.2 338.4L941.7 355.2L922.7 355.2Z" fill="#000"/>
<path d="M883.0 338.8L892.5 355.6L873.5 355.6Z" fill="#000"/>
<path d="M834.7 339.0L844.2 355.8L825.2 355.8Z" fill="#000"/>
<path d="M784.5 339.3L794.0 356.1L775.0 356.1Z" fill="#000"/>
<path d="M736.2 339.6L745.7 356.4L726.7 356.4Z" fill="#000"/>
<path d="M700.8 339.7L710.2 356.5L691.2 356.5Z" fill="#000"/>
<path d="M656.4 340.1L665.9 356.9L646.9 356.9Z" fill="#000"/>
<path d="M607.2 344.2L616.7 361.0L597.7 361.0Z" fill="#000"/>
<path d="M507.7 346.6L517.2 363.4L498.2 363.4Z" fill="#000"/>
<path d="M464.4 347.6L473.9 364.4L454.9 364.4Z" fill="#000"/>
<path d="M415.1 349.0L424.6 365.8L405.6 365.8Z" fill="#000"/>
<path d="M365.9 351.3L375.4 368.1L356.4 368.1Z" fill="#000"/>
<path d="M159.0 752.6 L162.2 500.8 L164.0 491.8 L164.8 488.2 L167.5 480.9 L169.2 476.4 L173.8 468.7 L180.0 461.3 L189.9 454.4 L199.4 449.7 L209.9 445.9 L218.2 443.7 L223.1 442.6 L230.4 441.2 L238.7 439.9 L247.0 438.8 L259.8 436.9 L306.2 434.6 L357.2 432.0 L406.2 430.1 L456.1 429.1 L487.7 428.6 L553.0 428.2 L603.2 427.7 L655.0 428.6 L703.2 428.6 L750.0 428.6 L800.2 428.6 L818.6 428.5 L897.8 428.2 L947.0 427.9 L996.2 427.6 L1045.5 427.2 L1094.8 426.5 L1133.2 423.9 L1081.9 425.1 L1030.7 425.0 L981.5 424.9 L932.2 424.8 L883.0 424.7 L830.8 424.7 L783.2 424.6 L732.9 424.6 L685.0 424.6 L634.3 425.1 L603.2 427.7 L505.5 428.5 L461.4 429.0 L414.1 429.9 L362.9 431.7" fill="none" stroke="#000" stroke-width="1.9" stroke-linejoin="round"/>
<path d="M159.0 743.0L167.4 757.7L150.6 757.7Z" fill="#fff" stroke="#000" stroke-width="1.6" stroke-linejoin="miter"/>
<path d="M162.2 491.2L170.6 505.9L153.8 505.9Z" fill="#fff" stroke="#000" stroke-width="1.6" stroke-linejoin="miter"/>
<path d="M164.0 482.2L172.4 496.9L155.6 496.9Z" fill="#fff" stroke="#000" stroke-width="1.6" stroke-linejoin="miter"/>
<path d="M164.8 478.6L173.2 493.3L156.4 493.3Z" fill="#fff" stroke="#000" stroke-width="1.6" stroke-linejoin="miter"/>
<path d="M167.5 471.3L175.9 486.0L159.1 486.0Z" fill="#fff" stroke="#000" stroke-width="1.6" stroke-linejoin="miter"/>
<path d="M169.2 466.8L177.6 481.5L160.8 481.5Z" fill="#fff" stroke="#000" stroke-width="1.6" stroke-linejoin="miter"/>
<path d="M173.8 459.1L182.2 473.8L165.4 473.8Z" fill="#fff" stroke="#000" stroke-width="1.6" stroke-linejoin="miter"/>
<path d="M180.0 451.7L188.4 466.4L171.6 466.4Z" fill="#fff" stroke="#000" stroke-width="1.6" stroke-linejoin="miter"/>
<path d="M189.9 444.8L198.3 459.5L181.5 459.5Z" fill="#fff" stroke="#000" stroke-width="1.6" stroke-linejoin="miter"/>
<path d="M199.4 440.1L207.8 454.8L191.0 454.8Z" fill="#fff" stroke="#000" stroke-width="1.6" stroke-linejoin="miter"/>
<path d="M209.9 436.3L218.3 451.0L201.5 451.0Z" fill="#fff" stroke="#000" stroke-width="1.6" stroke-linejoin="miter"/>
<path d="M218.2 434.1L226.6 448.8L209.8 448.8Z" fill="#fff" stroke="#000" stroke-width="1.6" stroke-linejoin="miter"/>
<path d="M223.1 433.0L231.5 447.7L214.7 447.7Z" fill="#fff" stroke="#000" stroke-width="1.6" stroke-linejoin="miter"/>
<path d="M230.4 431.6L238.8 446.3L222.0 446.3Z" fill="#fff" stroke="#000" stroke-width="1.6" stroke-linejoin="miter"/>
<path d="M238.7 430.3L247.1 445.0L230.3 445.0Z" fill="#fff" stroke="#000" stroke-width="1.6" stroke-linejoin="miter"/>
<path d="M247.0 429.2L255.4 443.9L238.6 443.9Z" fill="#fff" stroke="#000" stroke-width="1.6" stroke-linejoin="miter"/>
<path d="M259.8 427.3L268.2 442.0L251.4 442.0Z" fill="#fff" stroke="#000" stroke-width="1.6" stroke-linejoin="miter"/>
<path d="M306.2 425.0L314.6 439.7L297.8 439.7Z" fill="#fff" stroke="#000" stroke-width="1.6" stroke-linejoin="miter"/>
<path d="M357.2 422.4L365.6 437.1L348.8 437.1Z" fill="#fff" stroke="#000" stroke-width="1.6" stroke-linejoin="miter"/>
<path d="M406.2 420.5L414.6 435.2L397.8 435.2Z" fill="#fff" stroke="#000" stroke-width="1.6" stroke-linejoin="miter"/>
<path d="M456.1 419.5L464.5 434.2L447.7 434.2Z" fill="#fff" stroke="#000" stroke-width="1.6" stroke-linejoin="miter"/>
<path d="M487.7 419.0L496.1 433.7L479.3 433.7Z" fill="#fff" stroke="#000" stroke-width="1.6" stroke-linejoin="miter"/>
<path d="M553.0 418.6L561.4 433.3L544.6 433.3Z" fill="#fff" stroke="#000" stroke-width="1.6" stroke-linejoin="miter"/>
<path d="M603.2 418.1L611.6 432.8L594.8 432.8Z" fill="#fff" stroke="#000" stroke-width="1.6" stroke-linejoin="miter"/>
<path d="M655.0 419.0L663.4 433.7L646.6 433.7Z" fill="#fff" stroke="#000" stroke-width="1.6" stroke-linejoin="miter"/>
<path d="M703.2 419.0L711.6 433.7L694.8 433.7Z" fill="#fff" stroke="#000" stroke-width="1.6" stroke-linejoin="miter"/>
<path d="M750.0 419.0L758.4 433.7L741.6 433.7Z" fill="#fff" stroke="#000" stroke-width="1.6" stroke-linejoin="miter"/>
<path d="M800.2 419.0L808.6 433.7L791.8 433.7Z" fill="#fff" stroke="#000" stroke-width="1.6" stroke-linejoin="miter"/>
<path d="M818.6 418.9L827.0 433.6L810.2 433.6Z" fill="#fff" stroke="#000" stroke-width="1.6" stroke-linejoin="miter"/>
<path d="M897.8 418.6L906.1 433.3L889.4 433.3Z" fill="#fff" stroke="#000" stroke-width="1.6" stroke-linejoin="miter"/>
<path d="M947.0 418.3L955.4 433.0L938.6 433.0Z" fill="#fff" stroke="#000" stroke-width="1.6" stroke-linejoin="miter"/>
<path d="M996.2 418.0L1004.6 432.7L987.9 432.7Z" fill="#fff" stroke="#000" stroke-width="1.6" stroke-linejoin="miter"/>
<path d="M1045.5 417.6L1053.9 432.3L1037.1 432.3Z" fill="#fff" stroke="#000" stroke-width="1.6" stroke-linejoin="miter"/>
<path d="M1094.8 416.9L1103.2 431.6L1086.3 431.6Z" fill="#fff" stroke="#000" stroke-width="1.6" stroke-linejoin="miter"/>
<path d="M1133.2 414.3L1141.6 429.0L1124.8 429.0Z" fill="#fff" stroke="#000" stroke-width="1.6" stroke-linejoin="miter"/>
<path d="M1081.9 415.5L1090.3 430.2L1073.5 430.2Z" fill="#fff" stroke="#000" stroke-width="1.6" stroke-linejoin="miter"/>
<path d="M1030.7 415.4L1039.1 430.1L1022.3 430.1Z" fill="#fff" stroke="#000" stroke-width="1.6" stroke-linejoin="miter"/>
<path d="M981.5 415.3L989.9 430.0L973.1 430.0Z" fill="#fff" stroke="#000" stroke-width="1.6" stroke-linejoin="miter"/>
<path d="M932.2 415.2L940.6 429.9L923.8 429.9Z" fill="#fff" stroke="#000" stroke-width="1.6" stroke-linejoin="miter"/>
<path d="M883.0 415.1L891.4 429.8L874.6 429.8Z" fill="#fff" stroke="#000" stroke-width="1.6" stroke-linejoin="miter"/>
<path d="M830.8 415.1L839.2 429.8L822.4 429.8Z" fill="#fff" stroke="#000" stroke-width="1.6" stroke-linejoin="miter"/>
<path d="M783.2 415.0L791.6 429.7L774.8 429.7Z" fill="#fff" stroke="#000" stroke-width="1.6" stroke-linejoin="miter"/>
<path d="M732.9 415.0L741.3 429.7L724.5 429.7Z" fill="#fff" stroke="#000" stroke-width="1.6" stroke-linejoin="miter"/>
<path d="M685.0 415.0L693.4 429.7L676.6 429.7Z" fill="#fff" stroke="#000" stroke-width="1.6" stroke-linejoin="miter"/>
<path d="M634.3 415.5L642.7 430.2L625.9 430.2Z" fill="#fff" stroke="#000" stroke-width="1.6" stroke-linejoin="miter"/>
<path d="M603.2 418.1L611.6 432.8L594.8 432.8Z" fill="#fff" stroke="#000" stroke-width="1.6" stroke-linejoin="miter"/>
<path d="M505.5 418.9L513.9 433.6L497.1 433.6Z" fill="#fff" stroke="#000" stroke-width="1.6" stroke-linejoin="miter"/>
<path d="M461.4 419.4L469.8 434.1L453.0 434.1Z" fill="#fff" stroke="#000" stroke-width="1.6" stroke-linejoin="miter"/>
<path d="M414.1 420.3L422.5 435.0L405.7 435.0Z" fill="#fff" stroke="#000" stroke-width="1.6" stroke-linejoin="miter"/>
<path d="M362.9 422.1L371.3 436.8L354.5 436.8Z" fill="#fff" stroke="#000" stroke-width="1.6" stroke-linejoin="miter"/>
<path d="M1449.0 752.6 L1449.5 329.6 L1450.0 311.9 L1452.0 299.8 L1457.0 283.9 L1462.0 269.9 L1468.0 255.8 L1473.6 245.2 L1478.5 237.0 L1483.5 230.7 L1488.4 225.5 L1493.3 220.2 L1498.2 215.3 L1503.2 211.2 L1508.1 207.6 L1513.0 204.3 L1518.0 201.4 L1522.9 198.6 L1527.8 196.1 L1532.7 193.6 L1537.7 191.4 L1542.6 189.3 L1547.5 187.6 L1551.8 186.1 L1597.2 172.1 L1649.2 164.0 L1696.2 158.1 L1745.8 154.4 L1781.6 151.6 L1843.3 148.2 L1892.5 145.5 L1941.9 144.5 L1990.8 142.5 L2043.9 141.1 L2089.2 139.9 L2139.2 138.8 L2189.7 137.7 L2237.0 136.3 L2286.1 134.4 L2334.3 132.8 L2382.4 129.4 L2420.8 123.9 L2371.4 127.1 L2318.9 128.9 L2270.5 129.9 L2237.0 130.1 L2189.7 130.5 L2139.2 132.2 L2089.2 133.3 L2043.9 134.4 L1990.8 135.4 L1941.9 136.7 L1893.1 146.1 L1802.6 150.3 L1764.0 152.9 L1720.7 156.2 L1663.1 162.0 L1599.9 171.6" fill="none" stroke="#000" stroke-width="1.9" stroke-linejoin="round"/>
<ellipse cx="1449.0" cy="752.6" rx="8.0" ry="8.3" fill="#000"/>
<ellipse cx="1449.5" cy="329.6" rx="8.0" ry="8.3" fill="#000"/>
<ellipse cx="1450.0" cy="311.9" rx="8.0" ry="8.3" fill="#000"/>
<ellipse cx="1452.0" cy="299.8" rx="8.0" ry="8.3" fill="#000"/>
<ellipse cx="1457.0" cy="283.9" rx="8.0" ry="8.3" fill="#000"/>
<ellipse cx="1462.0" cy="269.9" rx="8.0" ry="8.3" fill="#000"/>
<ellipse cx="1468.0" cy="255.8" rx="8.0" ry="8.3" fill="#000"/>
<ellipse cx="1473.6" cy="245.2" rx="8.0" ry="8.3" fill="#000"/>
<ellipse cx="1478.5" cy="237.0" rx="8.0" ry="8.3" fill="#000"/>
<ellipse cx="1483.5" cy="230.7" rx="8.0" ry="8.3" fill="#000"/>
<ellipse cx="1488.4" cy="225.5" rx="8.0" ry="8.3" fill="#000"/>
<ellipse cx="1493.3" cy="220.2" rx="8.0" ry="8.3" fill="#000"/>
<ellipse cx="1498.2" cy="215.3" rx="8.0" ry="8.3" fill="#000"/>
<ellipse cx="1503.2" cy="211.2" rx="8.0" ry="8.3" fill="#000"/>
<ellipse cx="1508.1" cy="207.6" rx="8.0" ry="8.3" fill="#000"/>
<ellipse cx="1513.0" cy="204.3" rx="8.0" ry="8.3" fill="#000"/>
<ellipse cx="1518.0" cy="201.4" rx="8.0" ry="8.3" fill="#000"/>
<ellipse cx="1522.9" cy="198.6" rx="8.0" ry="8.3" fill="#000"/>
<ellipse cx="1527.8" cy="196.1" rx="8.0" ry="8.3" fill="#000"/>
<ellipse cx="1532.7" cy="193.6" rx="8.0" ry="8.3" fill="#000"/>
<ellipse cx="1537.7" cy="191.4" rx="8.0" ry="8.3" fill="#000"/>
<ellipse cx="1542.6" cy="189.3" rx="8.0" ry="8.3" fill="#000"/>
<ellipse cx="1547.5" cy="187.6" rx="8.0" ry="8.3" fill="#000"/>
<ellipse cx="1551.8" cy="186.1" rx="8.0" ry="8.3" fill="#000"/>
<ellipse cx="1597.2" cy="172.1" rx="8.0" ry="8.3" fill="#000"/>
<ellipse cx="1649.2" cy="164.0" rx="8.0" ry="8.3" fill="#000"/>
<ellipse cx="1696.2" cy="158.1" rx="8.0" ry="8.3" fill="#000"/>
<ellipse cx="1745.8" cy="154.4" rx="8.0" ry="8.3" fill="#000"/>
<ellipse cx="1781.6" cy="151.6" rx="8.0" ry="8.3" fill="#000"/>
<ellipse cx="1843.3" cy="148.2" rx="8.0" ry="8.3" fill="#000"/>
<ellipse cx="1892.5" cy="145.5" rx="8.0" ry="8.3" fill="#000"/>
<ellipse cx="1941.9" cy="144.5" rx="8.0" ry="8.3" fill="#000"/>
<ellipse cx="1990.8" cy="142.5" rx="8.0" ry="8.3" fill="#000"/>
<ellipse cx="2043.9" cy="141.1" rx="8.0" ry="8.3" fill="#000"/>
<ellipse cx="2089.2" cy="139.9" rx="8.0" ry="8.3" fill="#000"/>
<ellipse cx="2139.2" cy="138.8" rx="8.0" ry="8.3" fill="#000"/>
<ellipse cx="2189.7" cy="137.7" rx="8.0" ry="8.3" fill="#000"/>
<ellipse cx="2237.0" cy="136.3" rx="8.0" ry="8.3" fill="#000"/>
<ellipse cx="2286.1" cy="134.4" rx="8.0" ry="8.3" fill="#000"/>
<ellipse cx="2334.3" cy="132.8" rx="8.0" ry="8.3" fill="#000"/>
<ellipse cx="2382.4" cy="129.4" rx="8.0" ry="8.3" fill="#000"/>
<ellipse cx="2420.8" cy="123.9" rx="8.0" ry="8.3" fill="#000"/>
<ellipse cx="2371.4" cy="127.1" rx="8.0" ry="8.3" fill="#000"/>
<ellipse cx="2318.9" cy="128.9" rx="8.0" ry="8.3" fill="#000"/>
<ellipse cx="2270.5" cy="129.9" rx="8.0" ry="8.3" fill="#000"/>
<ellipse cx="2237.0" cy="130.1" rx="8.0" ry="8.3" fill="#000"/>
<ellipse cx="2189.7" cy="130.5" rx="8.0" ry="8.3" fill="#000"/>
<ellipse cx="2139.2" cy="132.2" rx="8.0" ry="8.3" fill="#000"/>
<ellipse cx="2089.2" cy="133.3" rx="8.0" ry="8.3" fill="#000"/>
<ellipse cx="2043.9" cy="134.4" rx="8.0" ry="8.3" fill="#000"/>
<ellipse cx="1990.8" cy="135.4" rx="8.0" ry="8.3" fill="#000"/>
<ellipse cx="1941.9" cy="136.7" rx="8.0" ry="8.3" fill="#000"/>
<ellipse cx="1893.1" cy="146.1" rx="8.0" ry="8.3" fill="#000"/>
<ellipse cx="1802.6" cy="150.3" rx="8.0" ry="8.3" fill="#000"/>
<ellipse cx="1764.0" cy="152.9" rx="8.0" ry="8.3" fill="#000"/>
<ellipse cx="1720.7" cy="156.2" rx="8.0" ry="8.3" fill="#000"/>
<ellipse cx="1663.1" cy="162.0" rx="8.0" ry="8.3" fill="#000"/>
<ellipse cx="1599.9" cy="171.6" rx="8.0" ry="8.3" fill="#000"/>
<path d="M1449.0 752.6 L1449.8 366.5 L1450.5 353.2 L1453.3 339.9 L1457.7 326.1 L1462.3 318.2 L1467.7 301.8 L1478.5 286.2 L1487.4 276.4 L1497.3 267.4 L1507.6 260.8 L1518.6 255.3 L1528.8 250.9 L1538.6 246.3 L1548.5 242.7 L1594.8 231.9 L1647.5 224.3 L1698.5 219.8 L1747.3 216.5 L1778.4 214.2 L1841.9 211.7 L1892.5 209.4 L1942.5 209.0 L1991.7 208.3 L2041.0 207.1 L2089.2 206.0 L2139.8 204.8 L2187.4 203.5 L2236.2 202.1 L2285.0 200.9 L2334.8 199.8 L2384.8 197.5 L2420.8 192.7 L2369.1 195.4 L2318.2 197.0 L2269.9 197.7 L2218.5 197.7 L2189.6 197.7 L2119.8 199.4 L2089.2 200.0 L2041.0 200.9 L1991.7 201.6 L1942.5 202.5 L1893.1 209.4 L1799.0 213.2 L1759.1 215.5 L1709.6 219.0 L1657.1 223.3 L1598.7 231.2" fill="none" stroke="#000" stroke-width="1.9" stroke-linejoin="round"/>
<ellipse cx="1449.0" cy="752.6" rx="7.3" ry="7.6" fill="#fff" stroke="#000" stroke-width="1.6"/>
<ellipse cx="1449.8" cy="366.5" rx="7.3" ry="7.6" fill="#fff" stroke="#000" stroke-width="1.6"/>
<ellipse cx="1450.5" cy="353.2" rx="7.3" ry="7.6" fill="#fff" stroke="#000" stroke-width="1.6"/>
<ellipse cx="1453.3" cy="339.9" rx="7.3" ry="7.6" fill="#fff" stroke="#000" stroke-width="1.6"/>
<ellipse cx="1457.7" cy="326.1" rx="7.3" ry="7.6" fill="#fff" stroke="#000" stroke-width="1.6"/>
<ellipse cx="1462.3" cy="318.2" rx="7.3" ry="7.6" fill="#fff" stroke="#000" stroke-width="1.6"/>
<ellipse cx="1467.7" cy="301.8" rx="7.3" ry="7.6" fill="#fff" stroke="#000" stroke-width="1.6"/>
<ellipse cx="1478.5" cy="286.2" rx="7.3" ry="7.6" fill="#fff" stroke="#000" stroke-width="1.6"/>
<ellipse cx="1487.4" cy="276.4" rx="7.3" ry="7.6" fill="#fff" stroke="#000" stroke-width="1.6"/>
<ellipse cx="1497.3" cy="267.4" rx="7.3" ry="7.6" fill="#fff" stroke="#000" stroke-width="1.6"/>
<ellipse cx="1507.6" cy="260.8" rx="7.3" ry="7.6" fill="#fff" stroke="#000" stroke-width="1.6"/>
<ellipse cx="1518.6" cy="255.3" rx="7.3" ry="7.6" fill="#fff" stroke="#000" stroke-width="1.6"/>
<ellipse cx="1528.8" cy="250.9" rx="7.3" ry="7.6" fill="#fff" stroke="#000" stroke-width="1.6"/>
<ellipse cx="1538.6" cy="246.3" rx="7.3" ry="7.6" fill="#fff" stroke="#000" stroke-width="1.6"/>
<ellipse cx="1548.5" cy="242.7" rx="7.3" ry="7.6" fill="#fff" stroke="#000" stroke-width="1.6"/>
<ellipse cx="1594.8" cy="231.9" rx="7.3" ry="7.6" fill="#fff" stroke="#000" stroke-width="1.6"/>
<ellipse cx="1647.5" cy="224.3" rx="7.3" ry="7.6" fill="#fff" stroke="#000" stroke-width="1.6"/>
<ellipse cx="1698.5" cy="219.8" rx="7.3" ry="7.6" fill="#fff" stroke="#000" stroke-width="1.6"/>
<ellipse cx="1747.3" cy="216.5" rx="7.3" ry="7.6" fill="#fff" stroke="#000" stroke-width="1.6"/>
<ellipse cx="1778.4" cy="214.2" rx="7.3" ry="7.6" fill="#fff" stroke="#000" stroke-width="1.6"/>
<ellipse cx="1841.9" cy="211.7" rx="7.3" ry="7.6" fill="#fff" stroke="#000" stroke-width="1.6"/>
<ellipse cx="1892.5" cy="209.4" rx="7.3" ry="7.6" fill="#fff" stroke="#000" stroke-width="1.6"/>
<ellipse cx="1942.5" cy="209.0" rx="7.3" ry="7.6" fill="#fff" stroke="#000" stroke-width="1.6"/>
<ellipse cx="1991.7" cy="208.3" rx="7.3" ry="7.6" fill="#fff" stroke="#000" stroke-width="1.6"/>
<ellipse cx="2041.0" cy="207.1" rx="7.3" ry="7.6" fill="#fff" stroke="#000" stroke-width="1.6"/>
<ellipse cx="2089.2" cy="206.0" rx="7.3" ry="7.6" fill="#fff" stroke="#000" stroke-width="1.6"/>
<ellipse cx="2139.8" cy="204.8" rx="7.3" ry="7.6" fill="#fff" stroke="#000" stroke-width="1.6"/>
<ellipse cx="2187.4" cy="203.5" rx="7.3" ry="7.6" fill="#fff" stroke="#000" stroke-width="1.6"/>
<ellipse cx="2236.2" cy="202.1" rx="7.3" ry="7.6" fill="#fff" stroke="#000" stroke-width="1.6"/>
<ellipse cx="2285.0" cy="200.9" rx="7.3" ry="7.6" fill="#fff" stroke="#000" stroke-width="1.6"/>
<ellipse cx="2334.8" cy="199.8" rx="7.3" ry="7.6" fill="#fff" stroke="#000" stroke-width="1.6"/>
<ellipse cx="2384.8" cy="197.5" rx="7.3" ry="7.6" fill="#fff" stroke="#000" stroke-width="1.6"/>
<ellipse cx="2420.8" cy="192.7" rx="7.3" ry="7.6" fill="#fff" stroke="#000" stroke-width="1.6"/>
<ellipse cx="2369.1" cy="195.4" rx="7.3" ry="7.6" fill="#fff" stroke="#000" stroke-width="1.6"/>
<ellipse cx="2318.2" cy="197.0" rx="7.3" ry="7.6" fill="#fff" stroke="#000" stroke-width="1.6"/>
<ellipse cx="2269.9" cy="197.7" rx="7.3" ry="7.6" fill="#fff" stroke="#000" stroke-width="1.6"/>
<ellipse cx="2218.5" cy="197.7" rx="7.3" ry="7.6" fill="#fff" stroke="#000" stroke-width="1.6"/>
<ellipse cx="2189.6" cy="197.7" rx="7.3" ry="7.6" fill="#fff" stroke="#000" stroke-width="1.6"/>
<ellipse cx="2119.8" cy="199.4" rx="7.3" ry="7.6" fill="#fff" stroke="#000" stroke-width="1.6"/>
<ellipse cx="2089.2" cy="200.0" rx="7.3" ry="7.6" fill="#fff" stroke="#000" stroke-width="1.6"/>
<ellipse cx="2041.0" cy="200.9" rx="7.3" ry="7.6" fill="#fff" stroke="#000" stroke-width="1.6"/>
<ellipse cx="1991.7" cy="201.6" rx="7.3" ry="7.6" fill="#fff" stroke="#000" stroke-width="1.6"/>
<ellipse cx="1942.5" cy="202.5" rx="7.3" ry="7.6" fill="#fff" stroke="#000" stroke-width="1.6"/>
<ellipse cx="1893.1" cy="209.4" rx="7.3" ry="7.6" fill="#fff" stroke="#000" stroke-width="1.6"/>
<ellipse cx="1799.0" cy="213.2" rx="7.3" ry="7.6" fill="#fff" stroke="#000" stroke-width="1.6"/>
<ellipse cx="1759.1" cy="215.5" rx="7.3" ry="7.6" fill="#fff" stroke="#000" stroke-width="1.6"/>
<ellipse cx="1709.6" cy="219.0" rx="7.3" ry="7.6" fill="#fff" stroke="#000" stroke-width="1.6"/>
<ellipse cx="1657.1" cy="223.3" rx="7.3" ry="7.6" fill="#fff" stroke="#000" stroke-width="1.6"/>
<ellipse cx="1598.7" cy="231.2" rx="7.3" ry="7.6" fill="#fff" stroke="#000" stroke-width="1.6"/>
<path d="M1449.0 752.6 L1450.0 399.7 L1451.2 387.5 L1452.4 378.5 L1453.9 371.3 L1455.7 366.1 L1457.6 362.1 L1460.3 357.2 L1463.3 352.5 L1466.7 347.9 L1470.7 343.4 L1474.6 339.5 L1478.5 335.9 L1483.5 332.0 L1488.4 328.5 L1493.3 325.5 L1498.2 322.5 L1503.2 319.4 L1508.1 316.4 L1513.0 313.7 L1518.0 311.0 L1522.9 308.4 L1527.8 306.4 L1532.7 304.9 L1537.7 303.6 L1542.6 302.5 L1547.5 301.5 L1552.8 300.4 L1594.4 291.0 L1653.1 285.3 L1696.2 282.3 L1747.1 279.6 L1778.4 278.5 L1843.3 276.4 L1892.2 274.8 L1943.0 274.1 L1991.7 273.7 L2041.0 273.2 L2089.2 272.7 L2138.5 272.2 L2190.7 271.6 L2237.0 270.2 L2285.3 269.5 L2334.5 269.0 L2386.2 267.5 L2422.8 263.6 L2372.5 266.5 L2319.2 266.7 L2269.5 266.7 L2220.0 266.7 L2190.7 267.2 L2138.5 268.8 L2089.2 269.1 L2041.0 269.3 L1991.7 269.5 L1943.0 269.7 L1894.2 274.8 L1799.0 277.9 L1758.1 279.2 L1708.5 281.5 L1655.8 285.1 L1598.7 290.4" fill="none" stroke="#000" stroke-width="1.9" stroke-linejoin="round"/>
<rect x="1441.0" y="744.6" width="16.0" height="16.0" fill="#000"/>
<rect x="1442.0" y="391.7" width="16.0" height="16.0" fill="#000"/>
<rect x="1443.2" y="379.5" width="16.0" height="16.0" fill="#000"/>
<rect x="1444.4" y="370.5" width="16.0" height="16.0" fill="#000"/>
<rect x="1445.9" y="363.3" width="16.0" height="16.0" fill="#000"/>
<rect x="1447.7" y="358.1" width="16.0" height="16.0" fill="#000"/>
<rect x="1449.6" y="354.1" width="16.0" height="16.0" fill="#000"/>
<rect x="1452.3" y="349.2" width="16.0" height="16.0" fill="#000"/>
<rect x="1455.3" y="344.5" width="16.0" height="16.0" fill="#000"/>
<rect x="1458.7" y="339.9" width="16.0" height="16.0" fill="#000"/>
<rect x="1462.7" y="335.4" width="16.0" height="16.0" fill="#000"/>
<rect x="1466.6" y="331.5" width="16.0" height="16.0" fill="#000"/>
<rect x="1470.5" y="327.9" width="16.0" height="16.0" fill="#000"/>
<rect x="1475.5" y="324.0" width="16.0" height="16.0" fill="#000"/>
<rect x="1480.4" y="320.5" width="16.0" height="16.0" fill="#000"/>
<rect x="1485.3" y="317.5" width="16.0" height="16.0" fill="#000"/>
<rect x="1490.2" y="314.5" width="16.0" height="16.0" fill="#000"/>
<rect x="1495.2" y="311.4" width="16.0" height="16.0" fill="#000"/>
<rect x="1500.1" y="308.4" width="16.0" height="16.0" fill="#000"/>
<rect x="1505.0" y="305.7" width="16.0" height="16.0" fill="#000"/>
<rect x="1510.0" y="303.0" width="16.0" height="16.0" fill="#000"/>
<rect x="1514.9" y="300.4" width="16.0" height="16.0" fill="#000"/>
<rect x="1519.8" y="298.4" width="16.0" height="16.0" fill="#000"/>
<rect x="1524.7" y="296.9" width="16.0" height="16.0" fill="#000"/>
<rect x="1529.7" y="295.6" width="16.0" height="16.0" fill="#000"/>
<rect x="1534.6" y="294.5" width="16.0" height="16.0" fill="#000"/>
<rect x="1539.5" y="293.5" width="16.0" height="16.0" fill="#000"/>
<rect x="1544.8" y="292.4" width="16.0" height="16.0" fill="#000"/>
<rect x="1586.4" y="283.0" width="16.0" height="16.0" fill="#000"/>
<rect x="1645.1" y="277.3" width="16.0" height="16.0" fill="#000"/>
<rect x="1688.2" y="274.3" width="16.0" height="16.0" fill="#000"/>
<rect x="1739.1" y="271.6" width="16.0" height="16.0" fill="#000"/>
<rect x="1770.4" y="270.5" width="16.0" height="16.0" fill="#000"/>
<rect x="1835.3" y="268.4" width="16.0" height="16.0" fill="#000"/>
<rect x="1884.2" y="266.8" width="16.0" height="16.0" fill="#000"/>
<rect x="1935.0" y="266.1" width="16.0" height="16.0" fill="#000"/>
<rect x="1983.7" y="265.7" width="16.0" height="16.0" fill="#000"/>
<rect x="2033.0" y="265.2" width="16.0" height="16.0" fill="#000"/>
<rect x="2081.2" y="264.7" width="16.0" height="16.0" fill="#000"/>
<rect x="2130.5" y="264.2" width="16.0" height="16.0" fill="#000"/>
<rect x="2182.7" y="263.6" width="16.0" height="16.0" fill="#000"/>
<rect x="2229.0" y="262.2" width="16.0" height="16.0" fill="#000"/>
<rect x="2277.3" y="261.5" width="16.0" height="16.0" fill="#000"/>
<rect x="2326.5" y="261.0" width="16.0" height="16.0" fill="#000"/>
<rect x="2378.2" y="259.5" width="16.0" height="16.0" fill="#000"/>
<rect x="2414.8" y="255.6" width="16.0" height="16.0" fill="#000"/>
<rect x="2364.5" y="258.5" width="16.0" height="16.0" fill="#000"/>
<rect x="2311.2" y="258.7" width="16.0" height="16.0" fill="#000"/>
<rect x="2261.5" y="258.7" width="16.0" height="16.0" fill="#000"/>
<rect x="2212.0" y="258.7" width="16.0" height="16.0" fill="#000"/>
<rect x="2182.7" y="259.2" width="16.0" height="16.0" fill="#000"/>
<rect x="2130.5" y="260.8" width="16.0" height="16.0" fill="#000"/>
<rect x="2081.2" y="261.1" width="16.0" height="16.0" fill="#000"/>
<rect x="2033.0" y="261.3" width="16.0" height="16.0" fill="#000"/>
<rect x="1983.7" y="261.5" width="16.0" height="16.0" fill="#000"/>
<rect x="1935.0" y="261.7" width="16.0" height="16.0" fill="#000"/>
<rect x="1886.2" y="266.8" width="16.0" height="16.0" fill="#000"/>
<rect x="1791.0" y="269.9" width="16.0" height="16.0" fill="#000"/>
<rect x="1750.1" y="271.2" width="16.0" height="16.0" fill="#000"/>
<rect x="1700.5" y="273.5" width="16.0" height="16.0" fill="#000"/>
<rect x="1647.8" y="277.1" width="16.0" height="16.0" fill="#000"/>
<rect x="1590.7" y="282.4" width="16.0" height="16.0" fill="#000"/>
<path d="M1449.0 752.6 L1450.3 441.9 L1452.9 429.8 L1459.2 411.6 L1468.2 392.6 L1479.9 379.8 L1489.9 370.9 L1500.9 365.4 L1508.7 361.0 L1518.6 357.1 L1528.8 354.3 L1537.5 350.9 L1550.8 347.7 L1598.4 341.7 L1652.6 336.9 L1695.2 334.1 L1745.9 332.1 L1778.6 331.6 L1844.3 330.0 L1893.7 328.9 L1943.0 328.9 L1992.5 328.6 L2039.0 328.2 L2090.4 327.8 L2138.8 327.3 L2190.4 326.5 L2236.6 325.9 L2286.7 325.5 L2335.0 325.0 L2387.1 323.8 L2423.0 319.5 L2372.3 322.0 L2319.1 322.7 L2269.5 322.7 L2220.5 322.7 L2191.3 323.1 L2138.8 324.3 L2090.4 324.7 L2043.9 325.0 L1992.5 325.2 L1943.0 325.4 L1897.8 328.7 L1799.0 331.1 L1757.9 331.9 L1709.5 333.4 L1658.0 336.5 L1591.8 342.4" fill="none" stroke="#000" stroke-width="1.9" stroke-linejoin="round"/>
<rect x="1441.8" y="745.4" width="14.4" height="14.4" fill="#fff" stroke="#000" stroke-width="1.6"/>
<rect x="1443.1" y="434.7" width="14.4" height="14.4" fill="#fff" stroke="#000" stroke-width="1.6"/>
<rect x="1445.7" y="422.6" width="14.4" height="14.4" fill="#fff" stroke="#000" stroke-width="1.6"/>
<rect x="1452.0" y="404.4" width="14.4" height="14.4" fill="#fff" stroke="#000" stroke-width="1.6"/>
<rect x="1461.0" y="385.4" width="14.4" height="14.4" fill="#fff" stroke="#000" stroke-width="1.6"/>
<rect x="1472.7" y="372.6" width="14.4" height="14.4" fill="#fff" stroke="#000" stroke-width="1.6"/>
<rect x="1482.7" y="363.7" width="14.4" height="14.4" fill="#fff" stroke="#000" stroke-width="1.6"/>
<rect x="1493.7" y="358.2" width="14.4" height="14.4" fill="#fff" stroke="#000" stroke-width="1.6"/>
<rect x="1501.5" y="353.8" width="14.4" height="14.4" fill="#fff" stroke="#000" stroke-width="1.6"/>
<rect x="1511.4" y="349.9" width="14.4" height="14.4" fill="#fff" stroke="#000" stroke-width="1.6"/>
<rect x="1521.6" y="347.1" width="14.4" height="14.4" fill="#fff" stroke="#000" stroke-width="1.6"/>
<rect x="1530.3" y="343.7" width="14.4" height="14.4" fill="#fff" stroke="#000" stroke-width="1.6"/>
<rect x="1543.6" y="340.5" width="14.4" height="14.4" fill="#fff" stroke="#000" stroke-width="1.6"/>
<rect x="1591.2" y="334.5" width="14.4" height="14.4" fill="#fff" stroke="#000" stroke-width="1.6"/>
<rect x="1645.4" y="329.7" width="14.4" height="14.4" fill="#fff" stroke="#000" stroke-width="1.6"/>
<rect x="1688.0" y="326.9" width="14.4" height="14.4" fill="#fff" stroke="#000" stroke-width="1.6"/>
<rect x="1738.7" y="324.9" width="14.4" height="14.4" fill="#fff" stroke="#000" stroke-width="1.6"/>
<rect x="1771.4" y="324.4" width="14.4" height="14.4" fill="#fff" stroke="#000" stroke-width="1.6"/>
<rect x="1837.1" y="322.8" width="14.4" height="14.4" fill="#fff" stroke="#000" stroke-width="1.6"/>
<rect x="1886.5" y="321.7" width="14.4" height="14.4" fill="#fff" stroke="#000" stroke-width="1.6"/>
<rect x="1935.8" y="321.7" width="14.4" height="14.4" fill="#fff" stroke="#000" stroke-width="1.6"/>
<rect x="1985.3" y="321.4" width="14.4" height="14.4" fill="#fff" stroke="#000" stroke-width="1.6"/>
<rect x="2031.8" y="321.0" width="14.4" height="14.4" fill="#fff" stroke="#000" stroke-width="1.6"/>
<rect x="2083.2" y="320.6" width="14.4" height="14.4" fill="#fff" stroke="#000" stroke-width="1.6"/>
<rect x="2131.6" y="320.1" width="14.4" height="14.4" fill="#fff" stroke="#000" stroke-width="1.6"/>
<rect x="2183.2" y="319.3" width="14.4" height="14.4" fill="#fff" stroke="#000" stroke-width="1.6"/>
<rect x="2229.4" y="318.7" width="14.4" height="14.4" fill="#fff" stroke="#000" stroke-width="1.6"/>
<rect x="2279.5" y="318.3" width="14.4" height="14.4" fill="#fff" stroke="#000" stroke-width="1.6"/>
<rect x="2327.8" y="317.8" width="14.4" height="14.4" fill="#fff" stroke="#000" stroke-width="1.6"/>
<rect x="2379.9" y="316.6" width="14.4" height="14.4" fill="#fff" stroke="#000" stroke-width="1.6"/>
<rect x="2415.8" y="312.3" width="14.4" height="14.4" fill="#fff" stroke="#000" stroke-width="1.6"/>
<rect x="2365.1" y="314.8" width="14.4" height="14.4" fill="#fff" stroke="#000" stroke-width="1.6"/>
<rect x="2311.9" y="315.5" width="14.4" height="14.4" fill="#fff" stroke="#000" stroke-width="1.6"/>
<rect x="2262.3" y="315.5" width="14.4" height="14.4" fill="#fff" stroke="#000" stroke-width="1.6"/>
<rect x="2213.3" y="315.5" width="14.4" height="14.4" fill="#fff" stroke="#000" stroke-width="1.6"/>
<rect x="2184.1" y="315.9" width="14.4" height="14.4" fill="#fff" stroke="#000" stroke-width="1.6"/>
<rect x="2131.6" y="317.1" width="14.4" height="14.4" fill="#fff" stroke="#000" stroke-width="1.6"/>
<rect x="2083.2" y="317.5" width="14.4" height="14.4" fill="#fff" stroke="#000" stroke-width="1.6"/>
<rect x="2036.7" y="317.8" width="14.4" height="14.4" fill="#fff" stroke="#000" stroke-width="1.6"/>
<rect x="1985.3" y="318.0" width="14.4" height="14.4" fill="#fff" stroke="#000" stroke-width="1.6"/>
<rect x="1935.8" y="318.2" width="14.4" height="14.4" fill="#fff" stroke="#000" stroke-width="1.6"/>
<rect x="1890.6" y="321.5" width="14.4" height="14.4" fill="#fff" stroke="#000" stroke-width="1.6"/>
<rect x="1791.8" y="323.9" width="14.4" height="14.4" fill="#fff" stroke="#000" stroke-width="1.6"/>
<rect x="1750.7" y="324.7" width="14.4" height="14.4" fill="#fff" stroke="#000" stroke-width="1.6"/>
<rect x="1702.3" y="326.2" width="14.4" height="14.4" fill="#fff" stroke="#000" stroke-width="1.6"/>
<rect x="1650.8" y="329.3" width="14.4" height="14.4" fill="#fff" stroke="#000" stroke-width="1.6"/>
<rect x="1584.6" y="335.2" width="14.4" height="14.4" fill="#fff" stroke="#000" stroke-width="1.6"/>
<path d="M1449.0 752.6 L1450.0 478.4 L1451.2 475.5 L1452.4 471.7 L1453.9 466.6 L1455.7 461.3 L1457.6 456.4 L1460.3 450.3 L1463.3 445.0 L1466.7 439.7 L1470.7 434.5 L1474.6 430.2 L1478.5 426.5 L1483.5 422.6 L1488.4 419.2 L1493.3 416.2 L1498.2 413.6 L1503.2 411.2 L1508.1 409.2 L1513.0 407.3 L1518.0 405.6 L1522.9 404.0 L1527.8 402.6 L1532.7 401.2 L1537.7 399.9 L1542.6 398.7 L1550.0 397.1 L1595.8 392.2 L1649.4 388.0 L1702.1 386.0 L1749.4 384.8 L1779.0 383.7 L1845.3 382.8 L1894.7 382.1 L1944.1 381.4 L1994.5 381.1 L2042.0 380.9 L2092.0 380.8 L2139.2 380.7 L2187.3 380.5 L2237.0 380.2 L2292.0 379.8 L2338.3 379.5 L2386.7 378.6 L2423.0 374.1 L2372.7 377.7 L2321.4 377.9 L2270.3 377.9 L2223.5 377.9 L2171.3 377.8 L2122.4 377.7 L2075.3 377.7 L2022.6 377.7 L1994.5 377.8 L1944.1 378.7 L1896.7 382.1 L1796.4 383.4 L1744.5 384.9 L1695.2 386.2 L1641.6 388.4 L1589.9 392.7" fill="none" stroke="#000" stroke-width="1.9" stroke-linejoin="round"/>
<path d="M1449.0 741.7L1458.5 758.5L1439.5 758.5Z" fill="#000"/>
<path d="M1450.0 467.5L1459.5 484.3L1440.5 484.3Z" fill="#000"/>
<path d="M1451.2 464.6L1460.7 481.4L1441.7 481.4Z" fill="#000"/>
<path d="M1452.4 460.8L1461.9 477.6L1442.9 477.6Z" fill="#000"/>
<path d="M1453.9 455.7L1463.4 472.5L1444.4 472.5Z" fill="#000"/>
<path d="M1455.7 450.4L1465.2 467.2L1446.2 467.2Z" fill="#000"/>
<path d="M1457.6 445.5L1467.1 462.3L1448.1 462.3Z" fill="#000"/>
<path d="M1460.3 439.4L1469.8 456.2L1450.8 456.2Z" fill="#000"/>
<path d="M1463.3 434.1L1472.8 450.9L1453.8 450.9Z" fill="#000"/>
<path d="M1466.7 428.8L1476.2 445.6L1457.2 445.6Z" fill="#000"/>
<path d="M1470.7 423.6L1480.2 440.4L1461.2 440.4Z" fill="#000"/>
<path d="M1474.6 419.3L1484.1 436.1L1465.1 436.1Z" fill="#000"/>
<path d="M1478.5 415.6L1488.0 432.4L1469.0 432.4Z" fill="#000"/>
<path d="M1483.5 411.7L1493.0 428.5L1474.0 428.5Z" fill="#000"/>
<path d="M1488.4 408.3L1497.9 425.1L1478.9 425.1Z" fill="#000"/>
<path d="M1493.3 405.3L1502.8 422.1L1483.8 422.1Z" fill="#000"/>
<path d="M1498.2 402.7L1507.8 419.5L1488.8 419.5Z" fill="#000"/>
<path d="M1503.2 400.3L1512.7 417.1L1493.7 417.1Z" fill="#000"/>
<path d="M1508.1 398.3L1517.6 415.1L1498.6 415.1Z" fill="#000"/>
<path d="M1513.0 396.4L1522.5 413.2L1503.5 413.2Z" fill="#000"/>
<path d="M1518.0 394.7L1527.5 411.5L1508.5 411.5Z" fill="#000"/>
<path d="M1522.9 393.1L1532.4 409.9L1513.4 409.9Z" fill="#000"/>
<path d="M1527.8 391.7L1537.3 408.5L1518.3 408.5Z" fill="#000"/>
<path d="M1532.7 390.3L1542.2 407.1L1523.2 407.1Z" fill="#000"/>
<path d="M1537.7 389.0L1547.2 405.8L1528.2 405.8Z" fill="#000"/>
<path d="M1542.6 387.8L1552.1 404.6L1533.1 404.6Z" fill="#000"/>
<path d="M1550.0 386.2L1559.5 403.0L1540.5 403.0Z" fill="#000"/>
<path d="M1595.8 381.3L1605.3 398.1L1586.3 398.1Z" fill="#000"/>
<path d="M1649.4 377.1L1658.9 393.9L1639.9 393.9Z" fill="#000"/>
<path d="M1702.1 375.1L1711.6 391.9L1692.6 391.9Z" fill="#000"/>
<path d="M1749.4 373.9L1758.9 390.7L1739.9 390.7Z" fill="#000"/>
<path d="M1779.0 372.8L1788.5 389.6L1769.5 389.6Z" fill="#000"/>
<path d="M1845.3 371.9L1854.8 388.7L1835.8 388.7Z" fill="#000"/>
<path d="M1894.7 371.2L1904.2 388.0L1885.2 388.0Z" fill="#000"/>
<path d="M1944.1 370.5L1953.6 387.3L1934.6 387.3Z" fill="#000"/>
<path d="M1994.5 370.2L2004.0 387.0L1985.0 387.0Z" fill="#000"/>
<path d="M2042.0 370.0L2051.5 386.8L2032.5 386.8Z" fill="#000"/>
<path d="M2092.0 369.9L2101.5 386.7L2082.5 386.7Z" fill="#000"/>
<path d="M2139.2 369.8L2148.7 386.6L2129.7 386.6Z" fill="#000"/>
<path d="M2187.3 369.6L2196.8 386.4L2177.8 386.4Z" fill="#000"/>
<path d="M2237.0 369.3L2246.5 386.1L2227.5 386.1Z" fill="#000"/>
<path d="M2292.0 368.9L2301.5 385.7L2282.5 385.7Z" fill="#000"/>
<path d="M2338.3 368.6L2347.8 385.4L2328.8 385.4Z" fill="#000"/>
<path d="M2386.7 367.7L2396.2 384.5L2377.2 384.5Z" fill="#000"/>
<path d="M2423.0 363.2L2432.5 380.0L2413.5 380.0Z" fill="#000"/>
<path d="M2372.7 366.8L2382.2 383.6L2363.2 383.6Z" fill="#000"/>
<path d="M2321.4 367.0L2330.9 383.8L2311.9 383.8Z" fill="#000"/>
<path d="M2270.3 367.0L2279.8 383.8L2260.8 383.8Z" fill="#000"/>
<path d="M2223.5 367.0L2233.0 383.8L2214.0 383.8Z" fill="#000"/>
<path d="M2171.3 366.9L2180.8 383.7L2161.8 383.7Z" fill="#000"/>
<path d="M2122.4 366.8L2131.9 383.6L2112.9 383.6Z" fill="#000"/>
<path d="M2075.3 366.8L2084.8 383.6L2065.8 383.6Z" fill="#000"/>
<path d="M2022.6 366.8L2032.1 383.6L2013.1 383.6Z" fill="#000"/>
<path d="M1994.5 366.9L2004.0 383.7L1985.0 383.7Z" fill="#000"/>
<path d="M1944.1 367.8L1953.6 384.6L1934.6 384.6Z" fill="#000"/>
<path d="M1896.7 371.2L1906.2 388.0L1887.2 388.0Z" fill="#000"/>
<path d="M1796.4 372.5L1805.9 389.3L1786.9 389.3Z" fill="#000"/>
<path d="M1744.5 374.0L1754.0 390.8L1735.0 390.8Z" fill="#000"/>
<path d="M1695.2 375.3L1704.8 392.1L1685.8 392.1Z" fill="#000"/>
<path d="M1641.6 377.5L1651.1 394.3L1632.1 394.3Z" fill="#000"/>
<path d="M1589.9 381.8L1599.4 398.6L1580.4 398.6Z" fill="#000"/>
<path d="M1449.0 752.6 L1450.5 543.5 L1452.0 537.1 L1453.4 530.9 L1454.9 526.5 L1458.6 521.5 L1467.7 509.6 L1479.5 499.9 L1489.7 494.6 L1499.7 490.8 L1509.1 487.3 L1519.0 484.1 L1529.2 481.3 L1539.2 479.1 L1549.4 477.2 L1596.8 471.9 L1650.6 468.8 L1698.7 467.4 L1746.5 466.4 L1779.0 464.8 L1844.9 463.5 L1894.7 462.8 L1944.1 461.7 L1992.5 461.5 L2041.0 461.4 L2092.5 461.3 L2139.2 461.2 L2188.3 461.1 L2237.0 460.9 L2284.8 460.7 L2334.5 460.5 L2387.7 460.0 L2423.2 455.9 L2371.9 458.6 L2319.3 458.7 L2271.5 458.7 L2223.6 458.7 L2172.8 458.7 L2121.6 458.8 L2073.5 458.9 L2041.0 460.5 L1992.5 460.8 L1944.1 461.0 L1895.0 462.8 L1801.0 464.2 L1752.4 466.1 L1709.0 467.2 L1658.0 468.6 L1591.8 472.2" fill="none" stroke="#000" stroke-width="1.9" stroke-linejoin="round"/>
<path d="M1449.0 743.0L1457.4 757.7L1440.6 757.7Z" fill="#fff" stroke="#000" stroke-width="1.6" stroke-linejoin="miter"/>
<path d="M1450.5 533.9L1458.9 548.6L1442.1 548.6Z" fill="#fff" stroke="#000" stroke-width="1.6" stroke-linejoin="miter"/>
<path d="M1452.0 527.5L1460.4 542.2L1443.6 542.2Z" fill="#fff" stroke="#000" stroke-width="1.6" stroke-linejoin="miter"/>
<path d="M1453.4 521.3L1461.8 536.0L1445.0 536.0Z" fill="#fff" stroke="#000" stroke-width="1.6" stroke-linejoin="miter"/>
<path d="M1454.9 516.9L1463.3 531.6L1446.5 531.6Z" fill="#fff" stroke="#000" stroke-width="1.6" stroke-linejoin="miter"/>
<path d="M1458.6 511.9L1467.0 526.6L1450.2 526.6Z" fill="#fff" stroke="#000" stroke-width="1.6" stroke-linejoin="miter"/>
<path d="M1467.7 500.0L1476.1 514.7L1459.3 514.7Z" fill="#fff" stroke="#000" stroke-width="1.6" stroke-linejoin="miter"/>
<path d="M1479.5 490.3L1487.9 505.0L1471.1 505.0Z" fill="#fff" stroke="#000" stroke-width="1.6" stroke-linejoin="miter"/>
<path d="M1489.7 485.0L1498.1 499.7L1481.3 499.7Z" fill="#fff" stroke="#000" stroke-width="1.6" stroke-linejoin="miter"/>
<path d="M1499.7 481.2L1508.1 495.9L1491.3 495.9Z" fill="#fff" stroke="#000" stroke-width="1.6" stroke-linejoin="miter"/>
<path d="M1509.1 477.7L1517.5 492.4L1500.7 492.4Z" fill="#fff" stroke="#000" stroke-width="1.6" stroke-linejoin="miter"/>
<path d="M1519.0 474.5L1527.4 489.2L1510.6 489.2Z" fill="#fff" stroke="#000" stroke-width="1.6" stroke-linejoin="miter"/>
<path d="M1529.2 471.7L1537.6 486.4L1520.8 486.4Z" fill="#fff" stroke="#000" stroke-width="1.6" stroke-linejoin="miter"/>
<path d="M1539.2 469.5L1547.6 484.2L1530.8 484.2Z" fill="#fff" stroke="#000" stroke-width="1.6" stroke-linejoin="miter"/>
<path d="M1549.4 467.6L1557.8 482.3L1541.0 482.3Z" fill="#fff" stroke="#000" stroke-width="1.6" stroke-linejoin="miter"/>
<path d="M1596.8 462.3L1605.2 477.0L1588.3 477.0Z" fill="#fff" stroke="#000" stroke-width="1.6" stroke-linejoin="miter"/>
<path d="M1650.6 459.2L1659.0 473.9L1642.2 473.9Z" fill="#fff" stroke="#000" stroke-width="1.6" stroke-linejoin="miter"/>
<path d="M1698.7 457.8L1707.1 472.5L1690.3 472.5Z" fill="#fff" stroke="#000" stroke-width="1.6" stroke-linejoin="miter"/>
<path d="M1746.5 456.8L1754.9 471.5L1738.1 471.5Z" fill="#fff" stroke="#000" stroke-width="1.6" stroke-linejoin="miter"/>
<path d="M1779.0 455.2L1787.4 469.9L1770.6 469.9Z" fill="#fff" stroke="#000" stroke-width="1.6" stroke-linejoin="miter"/>
<path d="M1844.9 453.9L1853.3 468.6L1836.5 468.6Z" fill="#fff" stroke="#000" stroke-width="1.6" stroke-linejoin="miter"/>
<path d="M1894.7 453.2L1903.1 467.9L1886.3 467.9Z" fill="#fff" stroke="#000" stroke-width="1.6" stroke-linejoin="miter"/>
<path d="M1944.1 452.1L1952.5 466.8L1935.7 466.8Z" fill="#fff" stroke="#000" stroke-width="1.6" stroke-linejoin="miter"/>
<path d="M1992.5 451.9L2000.9 466.6L1984.1 466.6Z" fill="#fff" stroke="#000" stroke-width="1.6" stroke-linejoin="miter"/>
<path d="M2041.0 451.8L2049.4 466.5L2032.6 466.5Z" fill="#fff" stroke="#000" stroke-width="1.6" stroke-linejoin="miter"/>
<path d="M2092.5 451.7L2100.9 466.4L2084.1 466.4Z" fill="#fff" stroke="#000" stroke-width="1.6" stroke-linejoin="miter"/>
<path d="M2139.2 451.6L2147.6 466.3L2130.8 466.3Z" fill="#fff" stroke="#000" stroke-width="1.6" stroke-linejoin="miter"/>
<path d="M2188.3 451.5L2196.7 466.2L2179.9 466.2Z" fill="#fff" stroke="#000" stroke-width="1.6" stroke-linejoin="miter"/>
<path d="M2237.0 451.3L2245.4 466.0L2228.6 466.0Z" fill="#fff" stroke="#000" stroke-width="1.6" stroke-linejoin="miter"/>
<path d="M2284.8 451.1L2293.2 465.8L2276.4 465.8Z" fill="#fff" stroke="#000" stroke-width="1.6" stroke-linejoin="miter"/>
<path d="M2334.5 450.9L2342.9 465.6L2326.1 465.6Z" fill="#fff" stroke="#000" stroke-width="1.6" stroke-linejoin="miter"/>
<path d="M2387.7 450.4L2396.1 465.1L2379.3 465.1Z" fill="#fff" stroke="#000" stroke-width="1.6" stroke-linejoin="miter"/>
<path d="M2423.2 446.3L2431.6 461.0L2414.8 461.0Z" fill="#fff" stroke="#000" stroke-width="1.6" stroke-linejoin="miter"/>
<path d="M2371.9 449.0L2380.3 463.7L2363.5 463.7Z" fill="#fff" stroke="#000" stroke-width="1.6" stroke-linejoin="miter"/>
<path d="M2319.3 449.1L2327.7 463.8L2310.9 463.8Z" fill="#fff" stroke="#000" stroke-width="1.6" stroke-linejoin="miter"/>
<path d="M2271.5 449.1L2279.9 463.8L2263.1 463.8Z" fill="#fff" stroke="#000" stroke-width="1.6" stroke-linejoin="miter"/>
<path d="M2223.6 449.1L2232.0 463.8L2215.2 463.8Z" fill="#fff" stroke="#000" stroke-width="1.6" stroke-linejoin="miter"/>
<path d="M2172.8 449.1L2181.2 463.8L2164.4 463.8Z" fill="#fff" stroke="#000" stroke-width="1.6" stroke-linejoin="miter"/>
<path d="M2121.6 449.2L2130.0 463.9L2113.2 463.9Z" fill="#fff" stroke="#000" stroke-width="1.6" stroke-linejoin="miter"/>
<path d="M2073.5 449.3L2081.9 464.0L2065.1 464.0Z" fill="#fff" stroke="#000" stroke-width="1.6" stroke-linejoin="miter"/>
<path d="M2041.0 450.9L2049.4 465.6L2032.6 465.6Z" fill="#fff" stroke="#000" stroke-width="1.6" stroke-linejoin="miter"/>
<path d="M1992.5 451.2L2000.9 465.9L1984.1 465.9Z" fill="#fff" stroke="#000" stroke-width="1.6" stroke-linejoin="miter"/>
<path d="M1944.1 451.4L1952.5 466.1L1935.7 466.1Z" fill="#fff" stroke="#000" stroke-width="1.6" stroke-linejoin="miter"/>
<path d="M1895.0 453.2L1903.4 467.9L1886.6 467.9Z" fill="#fff" stroke="#000" stroke-width="1.6" stroke-linejoin="miter"/>
<path d="M1801.0 454.6L1809.4 469.3L1792.6 469.3Z" fill="#fff" stroke="#000" stroke-width="1.6" stroke-linejoin="miter"/>
<path d="M1752.4 456.5L1760.8 471.2L1744.0 471.2Z" fill="#fff" stroke="#000" stroke-width="1.6" stroke-linejoin="miter"/>
<path d="M1709.0 457.6L1717.4 472.3L1700.6 472.3Z" fill="#fff" stroke="#000" stroke-width="1.6" stroke-linejoin="miter"/>
<path d="M1658.0 459.0L1666.4 473.7L1649.6 473.7Z" fill="#fff" stroke="#000" stroke-width="1.6" stroke-linejoin="miter"/>
<path d="M1591.8 462.6L1600.2 477.3L1583.4 477.3Z" fill="#fff" stroke="#000" stroke-width="1.6" stroke-linejoin="miter"/>
<rect x="738.6" y="468.0" width="355.0" height="245.0" fill="#fff" stroke="#111" stroke-width="1.8"/>
<line x1="758.2" y1="503.6" x2="821.9" y2="503.6" stroke="#000" stroke-width="1.7"/>
<ellipse cx="790.2" cy="503.2" rx="8.0" ry="8.3" fill="#000"/>
<text transform="translate(838.0 512.6) scale(1 1.02)" class="lg">AC1</text>
<line x1="758.2" y1="538.3" x2="821.9" y2="538.3" stroke="#000" stroke-width="1.7"/>
<ellipse cx="790.2" cy="537.9" rx="7.3" ry="7.6" fill="#fff" stroke="#000" stroke-width="1.6"/>
<text transform="translate(838.0 547.3) scale(1 1.02)" class="lg">AC1-3 (108 mg/g)</text>
<line x1="758.2" y1="573.0" x2="821.9" y2="573.0" stroke="#000" stroke-width="1.7"/>
<rect x="782.2" y="564.6" width="16.0" height="16.0" fill="#000"/>
<text transform="translate(838.0 582.0) scale(1 1.02)" class="lg">AC1-5 (180 mg/g)</text>
<line x1="758.2" y1="607.7" x2="821.9" y2="607.7" stroke="#000" stroke-width="1.7"/>
<rect x="783.0" y="600.1" width="14.4" height="14.4" fill="#fff" stroke="#000" stroke-width="1.6"/>
<text transform="translate(838.0 616.7) scale(1 1.02)" class="lg">AC1-8 (270 mg/g)</text>
<line x1="758.2" y1="642.4" x2="821.9" y2="642.4" stroke="#000" stroke-width="1.7"/>
<path d="M790.2 631.1L799.7 647.9L780.7 647.9Z" fill="#000"/>
<text transform="translate(838.0 651.4) scale(1 1.02)" class="lg">AC1-10 (360 mg/g)</text>
<line x1="758.2" y1="677.1" x2="821.9" y2="677.1" stroke="#000" stroke-width="1.7"/>
<path d="M790.2 667.1L798.6 681.8L781.8 681.8Z" fill="#fff" stroke="#000" stroke-width="1.6" stroke-linejoin="miter"/>
<text transform="translate(838.0 686.1) scale(1 1.02)" class="lg">AC1-15 (540 mg/g)</text>
<rect x="2053.2" y="489.7" width="354.2" height="243.6" fill="#fff" stroke="#111" stroke-width="1.8"/>
<line x1="2072.8" y1="525.3" x2="2136.5" y2="525.3" stroke="#000" stroke-width="1.7"/>
<ellipse cx="2104.8" cy="524.9" rx="8.0" ry="8.3" fill="#000"/>
<text transform="translate(2152.6 534.3) scale(1 1.02)" class="lg">AC2</text>
<line x1="2072.8" y1="560.0" x2="2136.5" y2="560.0" stroke="#000" stroke-width="1.7"/>
<ellipse cx="2104.8" cy="559.6" rx="7.3" ry="7.6" fill="#fff" stroke="#000" stroke-width="1.6"/>
<text transform="translate(2152.6 569.0) scale(1 1.02)" class="lg">AC2-3 (108mg/g)</text>
<line x1="2072.8" y1="594.7" x2="2136.5" y2="594.7" stroke="#000" stroke-width="1.7"/>
<rect x="2096.8" y="586.3" width="16.0" height="16.0" fill="#000"/>
<text transform="translate(2152.6 603.7) scale(1 1.02)" class="lg">AC2-5 (180 mg/g)</text>
<line x1="2072.8" y1="629.4" x2="2136.5" y2="629.4" stroke="#000" stroke-width="1.7"/>
<rect x="2097.6" y="621.8" width="14.4" height="14.4" fill="#fff" stroke="#000" stroke-width="1.6"/>
<text transform="translate(2152.6 638.4) scale(1 1.02)" class="lg">AC2-8 (270 mg/g)</text>
<line x1="2072.8" y1="664.1" x2="2136.5" y2="664.1" stroke="#000" stroke-width="1.7"/>
<path d="M2104.8 652.8L2114.3 669.6L2095.3 669.6Z" fill="#000"/>
<text transform="translate(2152.6 673.1) scale(1 1.02)" class="lg">AC2-10 (360 mg/g)</text>
<line x1="2072.8" y1="698.8" x2="2136.5" y2="698.8" stroke="#000" stroke-width="1.7"/>
<path d="M2104.8 688.8L2113.2 703.5L2096.4 703.5Z" fill="#fff" stroke="#000" stroke-width="1.6" stroke-linejoin="miter"/>
<text transform="translate(2152.6 707.8) scale(1 1.02)" class="lg">AC2-15 (540 mg/g)</text>
<text transform="translate(998.0 100.9) scale(1 1.05)" class="ttl">AC1</text>
<text transform="translate(2303.0 93.1) scale(1 1.05)" class="ttl">AC2</text>
<text transform="translate(652.5 866.5) scale(1 1.04)" text-anchor="middle" class="at">P/P<tspan dy="-15.2" class="sup">0</tspan><tspan dy="15.2"> (-)</tspan></text>
<text transform="translate(1942.5 866.5) scale(1 1.04)" text-anchor="middle" class="at">P/P<tspan dy="-15.2" class="sup">0</tspan><tspan dy="15.2"> (-)</tspan></text>
<text transform="translate(57.9 398.3) rotate(-90)" text-anchor="middle" class="at">Amount adsorbed (cm<tspan dy="-16.5" class="sup2">3</tspan><tspan dy="16.5"> STP/g)</tspan></text>
<text transform="translate(1348.4 398.2) rotate(-90)" text-anchor="middle" class="at">Amount of adsorbed (cm<tspan dy="-16.5" class="sup2">3</tspan><tspan dy="16.5"> STP/g)</tspan></text>
</svg>
</body></html>
